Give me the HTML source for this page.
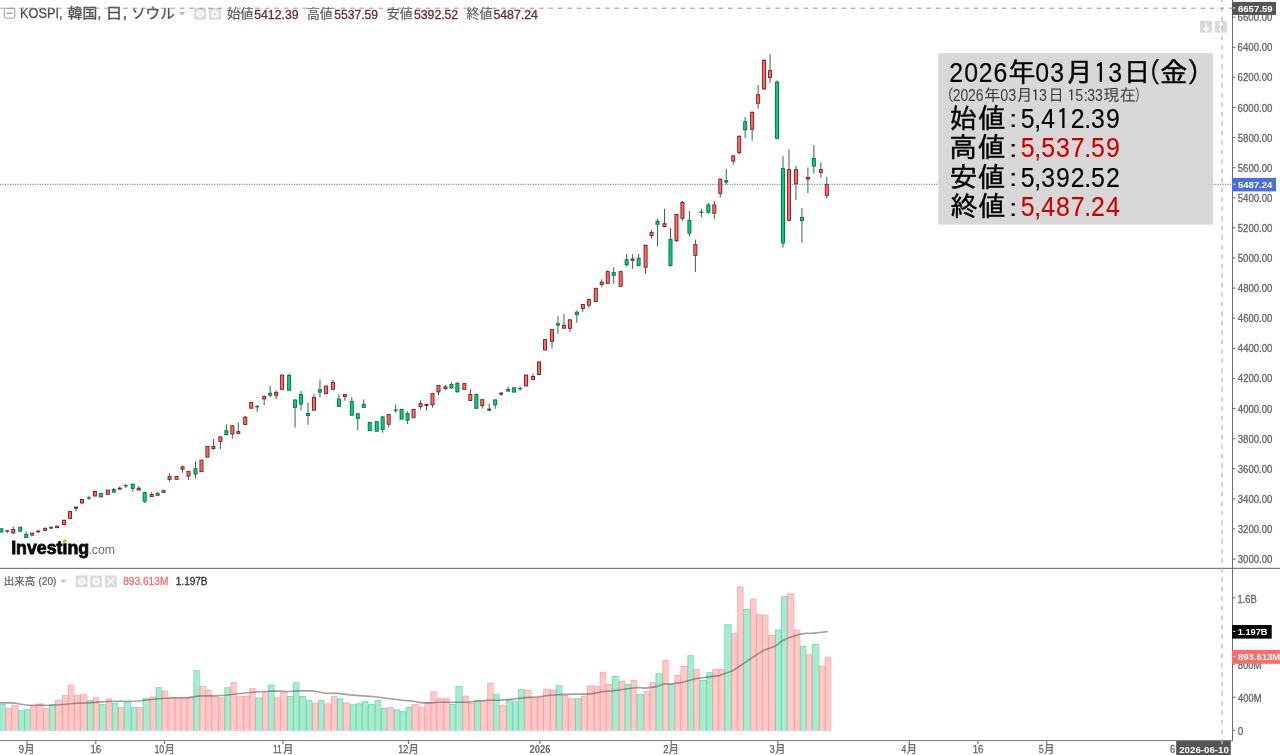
<!DOCTYPE html>
<html lang="ja">
<head>
<meta charset="utf-8">
<title>KOSPI 日足チャート</title>
<style>
html,body{margin:0;padding:0;background:#fff}
body{width:1280px;height:755px;overflow:hidden;font-family:"Liberation Sans","Noto Sans CJK JP",sans-serif}
svg{display:block}
text{white-space:pre}
</style>
</head>
<body>
<svg width="1280" height="755" viewBox="0 0 1280 755">
<rect width="1280" height="755" fill="#fff"/>
<g id="scalebtns">
<rect x="1200.1" y="20.9" width="11.75" height="11.75" fill="#d9d9d9"/><rect x="1215.05" y="20.9" width="11.75" height="11.75" fill="#d9d9d9"/>
<path d="M1206.05 23v6M1203.7 28.4h4.7l-2.35 2.6z" stroke="#fff" stroke-width="1.5" stroke-linejoin="round" fill="#fff"/>
<path d="M1220.85 24v5.6M1219.2 24.4l1.65-1.9l1.65 1.9zM1219.2 29.2l1.65 1.9l1.65-1.9z" stroke="#fff" stroke-width="1.2" stroke-linejoin="round" fill="#fff"/>
</g>
<g id="volume">
<rect x="-0.65" y="703.95" width="5.97" height="26.85" fill="#a7ecd1"/>
<rect x="5.33" y="708.15" width="5.97" height="22.65" fill="#ffc9c9"/>
<rect x="11.3" y="705.25" width="6.97" height="25.55" fill="#ffc9c9"/>
<rect x="18.27" y="710.25" width="5.97" height="20.55" fill="#a7ecd1"/>
<rect x="24.25" y="709.35" width="5.97" height="21.45" fill="#a7ecd1"/>
<rect x="30.22" y="705.65" width="5.97" height="25.15" fill="#ffc9c9"/>
<rect x="36.2" y="703.55" width="6.97" height="27.25" fill="#ffc9c9"/>
<rect x="43.17" y="708.15" width="5.97" height="22.65" fill="#ffc9c9"/>
<rect x="49.14" y="704.35" width="5.97" height="26.45" fill="#a7ecd1"/>
<rect x="55.12" y="700.15" width="6.97" height="30.65" fill="#ffc9c9"/>
<rect x="62.09" y="695.15" width="5.97" height="35.65" fill="#ffc9c9"/>
<rect x="68.06" y="684.75" width="5.97" height="46.05" fill="#ffc9c9"/>
<rect x="74.04" y="695.15" width="5.97" height="35.65" fill="#ffc9c9"/>
<rect x="80.01" y="694.25" width="6.97" height="36.55" fill="#ffc9c9"/>
<rect x="86.98" y="700.15" width="5.97" height="30.65" fill="#a7ecd1"/>
<rect x="92.96" y="697.35" width="5.97" height="33.45" fill="#ffc9c9"/>
<rect x="98.93" y="703.95" width="6.97" height="26.85" fill="#a7ecd1"/>
<rect x="105.9" y="698.35" width="5.97" height="32.45" fill="#ffc9c9"/>
<rect x="111.88" y="702.75" width="5.97" height="28.05" fill="#a7ecd1"/>
<rect x="117.85" y="707.15" width="5.97" height="23.65" fill="#ffc9c9"/>
<rect x="123.83" y="702.05" width="6.97" height="28.75" fill="#a7ecd1"/>
<rect x="130.8" y="707.15" width="5.97" height="23.65" fill="#a7ecd1"/>
<rect x="136.77" y="707.15" width="5.97" height="23.65" fill="#ffc9c9"/>
<rect x="142.75" y="698.35" width="6.97" height="32.45" fill="#a7ecd1"/>
<rect x="149.72" y="696.45" width="5.97" height="34.35" fill="#ffc9c9"/>
<rect x="155.69" y="687.25" width="5.97" height="43.55" fill="#a7ecd1"/>
<rect x="161.67" y="690.55" width="5.97" height="40.25" fill="#ffc9c9"/>
<rect x="167.64" y="697.65" width="6.97" height="33.15" fill="#ffc9c9"/>
<rect x="174.61" y="697.65" width="5.97" height="33.15" fill="#ffc9c9"/>
<rect x="180.59" y="697.65" width="5.97" height="33.15" fill="#ffc9c9"/>
<rect x="186.56" y="697.45" width="6.97" height="33.35" fill="#ffc9c9"/>
<rect x="193.53" y="670.25" width="5.97" height="60.55" fill="#a7ecd1"/>
<rect x="199.51" y="686.15" width="5.97" height="44.65" fill="#ffc9c9"/>
<rect x="205.48" y="689.85" width="5.97" height="40.95" fill="#ffc9c9"/>
<rect x="211.46" y="696.45" width="6.97" height="34.35" fill="#ffc9c9"/>
<rect x="218.43" y="697.45" width="5.97" height="33.35" fill="#ffc9c9"/>
<rect x="224.4" y="687.25" width="5.97" height="43.55" fill="#a7ecd1"/>
<rect x="230.38" y="682.25" width="5.97" height="48.55" fill="#ffc9c9"/>
<rect x="236.35" y="695.75" width="6.97" height="35.05" fill="#ffc9c9"/>
<rect x="243.32" y="695.75" width="5.97" height="35.05" fill="#ffc9c9"/>
<rect x="249.3" y="688.25" width="5.97" height="42.55" fill="#ffc9c9"/>
<rect x="255.27" y="697.45" width="6.97" height="33.35" fill="#a7ecd1"/>
<rect x="262.24" y="692.25" width="5.97" height="38.55" fill="#ffc9c9"/>
<rect x="268.22" y="684.75" width="5.97" height="46.05" fill="#a7ecd1"/>
<rect x="274.19" y="697.45" width="5.97" height="33.35" fill="#ffc9c9"/>
<rect x="280.17" y="692.05" width="6.97" height="38.75" fill="#ffc9c9"/>
<rect x="287.14" y="696.05" width="5.97" height="34.75" fill="#a7ecd1"/>
<rect x="293.11" y="682.25" width="5.97" height="48.55" fill="#a7ecd1"/>
<rect x="299.09" y="696.05" width="6.97" height="34.75" fill="#a7ecd1"/>
<rect x="306.06" y="700.15" width="5.97" height="30.65" fill="#a7ecd1"/>
<rect x="312.03" y="702.75" width="5.97" height="28.05" fill="#ffc9c9"/>
<rect x="318.01" y="700.15" width="5.97" height="30.65" fill="#a7ecd1"/>
<rect x="323.98" y="703.35" width="6.97" height="27.45" fill="#ffc9c9"/>
<rect x="330.95" y="696.05" width="5.97" height="34.75" fill="#ffc9c9"/>
<rect x="336.93" y="698.35" width="5.97" height="32.45" fill="#a7ecd1"/>
<rect x="342.9" y="702.75" width="6.97" height="28.05" fill="#ffc9c9"/>
<rect x="349.87" y="704.25" width="5.97" height="26.55" fill="#a7ecd1"/>
<rect x="355.85" y="703.35" width="5.97" height="27.45" fill="#a7ecd1"/>
<rect x="361.82" y="701.25" width="5.97" height="29.55" fill="#a7ecd1"/>
<rect x="367.8" y="704.25" width="6.97" height="26.55" fill="#a7ecd1"/>
<rect x="374.77" y="700.15" width="5.97" height="30.65" fill="#a7ecd1"/>
<rect x="380.74" y="708.15" width="5.97" height="22.65" fill="#a7ecd1"/>
<rect x="386.72" y="707.15" width="6.97" height="23.65" fill="#ffc9c9"/>
<rect x="393.69" y="709.35" width="5.97" height="21.45" fill="#a7ecd1"/>
<rect x="399.66" y="711.25" width="5.97" height="19.55" fill="#a7ecd1"/>
<rect x="405.64" y="707.15" width="5.97" height="23.65" fill="#a7ecd1"/>
<rect x="411.61" y="704.25" width="6.97" height="26.55" fill="#ffc9c9"/>
<rect x="418.58" y="707.15" width="5.97" height="23.65" fill="#ffc9c9"/>
<rect x="424.56" y="702.05" width="5.97" height="28.75" fill="#ffc9c9"/>
<rect x="430.53" y="691.35" width="5.97" height="39.45" fill="#ffc9c9"/>
<rect x="436.51" y="698.35" width="6.97" height="32.45" fill="#ffc9c9"/>
<rect x="443.48" y="698.35" width="5.97" height="32.45" fill="#ffc9c9"/>
<rect x="449.45" y="703.95" width="5.97" height="26.85" fill="#a7ecd1"/>
<rect x="455.43" y="686.15" width="6.97" height="44.65" fill="#a7ecd1"/>
<rect x="462.4" y="695.75" width="5.97" height="35.05" fill="#ffc9c9"/>
<rect x="468.37" y="702.75" width="5.97" height="28.05" fill="#ffc9c9"/>
<rect x="474.35" y="700.15" width="5.97" height="30.65" fill="#a7ecd1"/>
<rect x="480.32" y="700.85" width="6.97" height="29.95" fill="#ffc9c9"/>
<rect x="487.29" y="682.95" width="5.97" height="47.85" fill="#ffc9c9"/>
<rect x="493.27" y="694.15" width="5.97" height="36.65" fill="#a7ecd1"/>
<rect x="499.24" y="705.25" width="6.97" height="25.55" fill="#ffc9c9"/>
<rect x="506.21" y="699.35" width="5.97" height="31.45" fill="#a7ecd1"/>
<rect x="512.19" y="701.25" width="5.97" height="29.55" fill="#a7ecd1"/>
<rect x="518.16" y="689.15" width="5.97" height="41.65" fill="#a7ecd1"/>
<rect x="524.14" y="689.85" width="6.97" height="40.95" fill="#ffc9c9"/>
<rect x="531.11" y="697.65" width="5.97" height="33.15" fill="#ffc9c9"/>
<rect x="537.08" y="697.05" width="5.97" height="33.75" fill="#ffc9c9"/>
<rect x="543.06" y="689.15" width="6.97" height="41.65" fill="#ffc9c9"/>
<rect x="550.03" y="689.85" width="5.97" height="40.95" fill="#ffc9c9"/>
<rect x="556" y="685.35" width="5.97" height="45.45" fill="#a7ecd1"/>
<rect x="561.98" y="695.15" width="5.97" height="35.65" fill="#ffc9c9"/>
<rect x="567.95" y="698.35" width="6.97" height="32.45" fill="#ffc9c9"/>
<rect x="574.92" y="698.35" width="5.97" height="32.45" fill="#a7ecd1"/>
<rect x="580.9" y="695.75" width="5.97" height="35.05" fill="#ffc9c9"/>
<rect x="586.87" y="685.35" width="6.97" height="45.45" fill="#ffc9c9"/>
<rect x="593.84" y="686.15" width="5.97" height="44.65" fill="#ffc9c9"/>
<rect x="599.82" y="671.85" width="5.97" height="58.95" fill="#ffc9c9"/>
<rect x="605.79" y="684.05" width="5.97" height="46.75" fill="#ffc9c9"/>
<rect x="611.77" y="676.05" width="6.97" height="54.75" fill="#a7ecd1"/>
<rect x="618.74" y="681.05" width="5.97" height="49.75" fill="#ffc9c9"/>
<rect x="624.71" y="683.85" width="5.97" height="46.95" fill="#a7ecd1"/>
<rect x="630.69" y="680.05" width="5.97" height="50.75" fill="#ffc9c9"/>
<rect x="636.66" y="694.15" width="6.97" height="36.65" fill="#a7ecd1"/>
<rect x="643.63" y="691.15" width="5.97" height="39.65" fill="#ffc9c9"/>
<rect x="649.61" y="682.25" width="5.97" height="48.55" fill="#ffc9c9"/>
<rect x="655.58" y="673.45" width="6.97" height="57.35" fill="#a7ecd1"/>
<rect x="662.55" y="659.95" width="5.97" height="70.85" fill="#ffc9c9"/>
<rect x="668.53" y="683.85" width="5.97" height="46.95" fill="#a7ecd1"/>
<rect x="674.5" y="675.05" width="5.97" height="55.75" fill="#ffc9c9"/>
<rect x="680.48" y="665.85" width="6.97" height="64.95" fill="#ffc9c9"/>
<rect x="687.45" y="655.25" width="5.97" height="75.55" fill="#a7ecd1"/>
<rect x="693.42" y="669.15" width="5.97" height="61.65" fill="#ffc9c9"/>
<rect x="699.4" y="680.05" width="6.97" height="50.75" fill="#a7ecd1"/>
<rect x="706.37" y="672.25" width="5.97" height="58.55" fill="#a7ecd1"/>
<rect x="712.34" y="669.15" width="5.97" height="61.65" fill="#ffc9c9"/>
<rect x="718.32" y="669.15" width="5.97" height="61.65" fill="#ffc9c9"/>
<rect x="724.29" y="624.25" width="6.97" height="106.55" fill="#a7ecd1"/>
<rect x="731.26" y="633.05" width="5.97" height="97.75" fill="#ffc9c9"/>
<rect x="737.24" y="586.55" width="5.97" height="144.25" fill="#ffc9c9"/>
<rect x="743.21" y="609.05" width="6.97" height="121.75" fill="#a7ecd1"/>
<rect x="750.19" y="598.75" width="5.97" height="132.05" fill="#ffc9c9"/>
<rect x="756.16" y="614.25" width="5.97" height="116.55" fill="#ffc9c9"/>
<rect x="762.13" y="615.15" width="5.97" height="115.65" fill="#ffc9c9"/>
<rect x="768.11" y="634.85" width="6.97" height="95.95" fill="#ffc9c9"/>
<rect x="775.08" y="629.55" width="5.97" height="101.25" fill="#a7ecd1"/>
<rect x="781.05" y="596.25" width="5.97" height="134.55" fill="#a7ecd1"/>
<rect x="787.03" y="593.45" width="6.97" height="137.35" fill="#ffc9c9"/>
<rect x="794" y="629.55" width="5.97" height="101.25" fill="#ffc9c9"/>
<rect x="799.98" y="646.15" width="5.97" height="84.65" fill="#a7ecd1"/>
<rect x="805.95" y="654.35" width="5.97" height="76.45" fill="#ffc9c9"/>
<rect x="811.92" y="644.05" width="6.97" height="86.75" fill="#a7ecd1"/>
<rect x="818.9" y="665.65" width="5.97" height="65.15" fill="#ffc9c9"/>
<rect x="824.87" y="657.25" width="5.97" height="73.55" fill="#ffc9c9"/>
<g fill="none" stroke-width="0.85">
<path d="M-0.23 730.8V704.37H5.43V730.8" stroke="rgba(30,196,126,0.38)"/>
<path d="M5.75 730.8V708.57H11.4V730.8" stroke="rgba(255,112,108,0.38)"/>
<path d="M11.72 730.8V705.67H18.37V730.8" stroke="rgba(255,112,108,0.38)"/>
<path d="M18.69 730.8V710.67H24.35V730.8" stroke="rgba(30,196,126,0.38)"/>
<path d="M24.67 730.8V709.77H30.32V730.8" stroke="rgba(30,196,126,0.38)"/>
<path d="M30.64 730.8V706.07H36.3V730.8" stroke="rgba(255,112,108,0.38)"/>
<path d="M36.62 730.8V703.97H43.27V730.8" stroke="rgba(255,112,108,0.38)"/>
<path d="M43.59 730.8V708.57H49.24V730.8" stroke="rgba(255,112,108,0.38)"/>
<path d="M49.56 730.8V704.77H55.22V730.8" stroke="rgba(30,196,126,0.38)"/>
<path d="M55.54 730.8V700.57H62.19V730.8" stroke="rgba(255,112,108,0.38)"/>
<path d="M62.51 730.8V695.57H68.16V730.8" stroke="rgba(255,112,108,0.38)"/>
<path d="M68.48 730.8V685.17H74.14V730.8" stroke="rgba(255,112,108,0.38)"/>
<path d="M74.46 730.8V695.57H80.11V730.8" stroke="rgba(255,112,108,0.38)"/>
<path d="M80.43 730.8V694.67H87.08V730.8" stroke="rgba(255,112,108,0.38)"/>
<path d="M87.4 730.8V700.57H93.06V730.8" stroke="rgba(30,196,126,0.38)"/>
<path d="M93.38 730.8V697.77H99.03V730.8" stroke="rgba(255,112,108,0.38)"/>
<path d="M99.35 730.8V704.37H106V730.8" stroke="rgba(30,196,126,0.38)"/>
<path d="M106.32 730.8V698.77H111.98V730.8" stroke="rgba(255,112,108,0.38)"/>
<path d="M112.3 730.8V703.17H117.95V730.8" stroke="rgba(30,196,126,0.38)"/>
<path d="M118.27 730.8V707.57H123.93V730.8" stroke="rgba(255,112,108,0.38)"/>
<path d="M124.25 730.8V702.47H130.9V730.8" stroke="rgba(30,196,126,0.38)"/>
<path d="M131.22 730.8V707.57H136.87V730.8" stroke="rgba(30,196,126,0.38)"/>
<path d="M137.19 730.8V707.57H142.85V730.8" stroke="rgba(255,112,108,0.38)"/>
<path d="M143.17 730.8V698.77H149.82V730.8" stroke="rgba(30,196,126,0.38)"/>
<path d="M150.14 730.8V696.87H155.79V730.8" stroke="rgba(255,112,108,0.38)"/>
<path d="M156.11 730.8V687.67H161.77V730.8" stroke="rgba(30,196,126,0.38)"/>
<path d="M162.09 730.8V690.97H167.74V730.8" stroke="rgba(255,112,108,0.38)"/>
<path d="M168.06 730.8V698.07H174.71V730.8" stroke="rgba(255,112,108,0.38)"/>
<path d="M175.03 730.8V698.07H180.69V730.8" stroke="rgba(255,112,108,0.38)"/>
<path d="M181.01 730.8V698.07H186.66V730.8" stroke="rgba(255,112,108,0.38)"/>
<path d="M186.98 730.8V697.87H193.63V730.8" stroke="rgba(255,112,108,0.38)"/>
<path d="M193.95 730.8V670.67H199.61V730.8" stroke="rgba(30,196,126,0.38)"/>
<path d="M199.93 730.8V686.57H205.58V730.8" stroke="rgba(255,112,108,0.38)"/>
<path d="M205.9 730.8V690.27H211.56V730.8" stroke="rgba(255,112,108,0.38)"/>
<path d="M211.88 730.8V696.87H218.53V730.8" stroke="rgba(255,112,108,0.38)"/>
<path d="M218.85 730.8V697.87H224.5V730.8" stroke="rgba(255,112,108,0.38)"/>
<path d="M224.82 730.8V687.67H230.48V730.8" stroke="rgba(30,196,126,0.38)"/>
<path d="M230.8 730.8V682.67H236.45V730.8" stroke="rgba(255,112,108,0.38)"/>
<path d="M236.77 730.8V696.17H243.42V730.8" stroke="rgba(255,112,108,0.38)"/>
<path d="M243.74 730.8V696.17H249.4V730.8" stroke="rgba(255,112,108,0.38)"/>
<path d="M249.72 730.8V688.67H255.37V730.8" stroke="rgba(255,112,108,0.38)"/>
<path d="M255.69 730.8V697.87H262.34V730.8" stroke="rgba(30,196,126,0.38)"/>
<path d="M262.66 730.8V692.67H268.32V730.8" stroke="rgba(255,112,108,0.38)"/>
<path d="M268.64 730.8V685.17H274.29V730.8" stroke="rgba(30,196,126,0.38)"/>
<path d="M274.61 730.8V697.87H280.27V730.8" stroke="rgba(255,112,108,0.38)"/>
<path d="M280.59 730.8V692.47H287.24V730.8" stroke="rgba(255,112,108,0.38)"/>
<path d="M287.56 730.8V696.47H293.21V730.8" stroke="rgba(30,196,126,0.38)"/>
<path d="M293.53 730.8V682.67H299.19V730.8" stroke="rgba(30,196,126,0.38)"/>
<path d="M299.51 730.8V696.47H306.16V730.8" stroke="rgba(30,196,126,0.38)"/>
<path d="M306.48 730.8V700.57H312.13V730.8" stroke="rgba(30,196,126,0.38)"/>
<path d="M312.45 730.8V703.17H318.11V730.8" stroke="rgba(255,112,108,0.38)"/>
<path d="M318.43 730.8V700.57H324.08V730.8" stroke="rgba(30,196,126,0.38)"/>
<path d="M324.4 730.8V703.77H331.05V730.8" stroke="rgba(255,112,108,0.38)"/>
<path d="M331.37 730.8V696.47H337.03V730.8" stroke="rgba(255,112,108,0.38)"/>
<path d="M337.35 730.8V698.77H343V730.8" stroke="rgba(30,196,126,0.38)"/>
<path d="M343.32 730.8V703.17H349.97V730.8" stroke="rgba(255,112,108,0.38)"/>
<path d="M350.29 730.8V704.67H355.95V730.8" stroke="rgba(30,196,126,0.38)"/>
<path d="M356.27 730.8V703.77H361.92V730.8" stroke="rgba(30,196,126,0.38)"/>
<path d="M362.24 730.8V701.67H367.9V730.8" stroke="rgba(30,196,126,0.38)"/>
<path d="M368.22 730.8V704.67H374.87V730.8" stroke="rgba(30,196,126,0.38)"/>
<path d="M375.19 730.8V700.57H380.84V730.8" stroke="rgba(30,196,126,0.38)"/>
<path d="M381.16 730.8V708.57H386.82V730.8" stroke="rgba(30,196,126,0.38)"/>
<path d="M387.14 730.8V707.57H393.79V730.8" stroke="rgba(255,112,108,0.38)"/>
<path d="M394.11 730.8V709.77H399.76V730.8" stroke="rgba(30,196,126,0.38)"/>
<path d="M400.08 730.8V711.67H405.74V730.8" stroke="rgba(30,196,126,0.38)"/>
<path d="M406.06 730.8V707.57H411.71V730.8" stroke="rgba(30,196,126,0.38)"/>
<path d="M412.03 730.8V704.67H418.68V730.8" stroke="rgba(255,112,108,0.38)"/>
<path d="M419 730.8V707.57H424.66V730.8" stroke="rgba(255,112,108,0.38)"/>
<path d="M424.98 730.8V702.47H430.63V730.8" stroke="rgba(255,112,108,0.38)"/>
<path d="M430.95 730.8V691.77H436.61V730.8" stroke="rgba(255,112,108,0.38)"/>
<path d="M436.93 730.8V698.77H443.58V730.8" stroke="rgba(255,112,108,0.38)"/>
<path d="M443.9 730.8V698.77H449.55V730.8" stroke="rgba(255,112,108,0.38)"/>
<path d="M449.87 730.8V704.37H455.53V730.8" stroke="rgba(30,196,126,0.38)"/>
<path d="M455.85 730.8V686.57H462.5V730.8" stroke="rgba(30,196,126,0.38)"/>
<path d="M462.82 730.8V696.17H468.47V730.8" stroke="rgba(255,112,108,0.38)"/>
<path d="M468.79 730.8V703.17H474.45V730.8" stroke="rgba(255,112,108,0.38)"/>
<path d="M474.77 730.8V700.57H480.42V730.8" stroke="rgba(30,196,126,0.38)"/>
<path d="M480.74 730.8V701.27H487.39V730.8" stroke="rgba(255,112,108,0.38)"/>
<path d="M487.71 730.8V683.37H493.37V730.8" stroke="rgba(255,112,108,0.38)"/>
<path d="M493.69 730.8V694.57H499.34V730.8" stroke="rgba(30,196,126,0.38)"/>
<path d="M499.66 730.8V705.67H506.31V730.8" stroke="rgba(255,112,108,0.38)"/>
<path d="M506.63 730.8V699.77H512.29V730.8" stroke="rgba(30,196,126,0.38)"/>
<path d="M512.61 730.8V701.67H518.26V730.8" stroke="rgba(30,196,126,0.38)"/>
<path d="M518.58 730.8V689.57H524.24V730.8" stroke="rgba(30,196,126,0.38)"/>
<path d="M524.56 730.8V690.27H531.21V730.8" stroke="rgba(255,112,108,0.38)"/>
<path d="M531.53 730.8V698.07H537.18V730.8" stroke="rgba(255,112,108,0.38)"/>
<path d="M537.5 730.8V697.47H543.16V730.8" stroke="rgba(255,112,108,0.38)"/>
<path d="M543.48 730.8V689.57H550.13V730.8" stroke="rgba(255,112,108,0.38)"/>
<path d="M550.45 730.8V690.27H556.1V730.8" stroke="rgba(255,112,108,0.38)"/>
<path d="M556.42 730.8V685.77H562.08V730.8" stroke="rgba(30,196,126,0.38)"/>
<path d="M562.4 730.8V695.57H568.05V730.8" stroke="rgba(255,112,108,0.38)"/>
<path d="M568.37 730.8V698.77H575.02V730.8" stroke="rgba(255,112,108,0.38)"/>
<path d="M575.34 730.8V698.77H581V730.8" stroke="rgba(30,196,126,0.38)"/>
<path d="M581.32 730.8V696.17H586.97V730.8" stroke="rgba(255,112,108,0.38)"/>
<path d="M587.29 730.8V685.77H593.94V730.8" stroke="rgba(255,112,108,0.38)"/>
<path d="M594.26 730.8V686.57H599.92V730.8" stroke="rgba(255,112,108,0.38)"/>
<path d="M600.24 730.8V672.27H605.89V730.8" stroke="rgba(255,112,108,0.38)"/>
<path d="M606.21 730.8V684.47H611.87V730.8" stroke="rgba(255,112,108,0.38)"/>
<path d="M612.19 730.8V676.47H618.84V730.8" stroke="rgba(30,196,126,0.38)"/>
<path d="M619.16 730.8V681.47H624.81V730.8" stroke="rgba(255,112,108,0.38)"/>
<path d="M625.13 730.8V684.27H630.79V730.8" stroke="rgba(30,196,126,0.38)"/>
<path d="M631.11 730.8V680.47H636.76V730.8" stroke="rgba(255,112,108,0.38)"/>
<path d="M637.08 730.8V694.57H643.73V730.8" stroke="rgba(30,196,126,0.38)"/>
<path d="M644.05 730.8V691.57H649.71V730.8" stroke="rgba(255,112,108,0.38)"/>
<path d="M650.03 730.8V682.67H655.68V730.8" stroke="rgba(255,112,108,0.38)"/>
<path d="M656 730.8V673.87H662.65V730.8" stroke="rgba(30,196,126,0.38)"/>
<path d="M662.97 730.8V660.37H668.63V730.8" stroke="rgba(255,112,108,0.38)"/>
<path d="M668.95 730.8V684.27H674.6V730.8" stroke="rgba(30,196,126,0.38)"/>
<path d="M674.92 730.8V675.47H680.58V730.8" stroke="rgba(255,112,108,0.38)"/>
<path d="M680.9 730.8V666.27H687.55V730.8" stroke="rgba(255,112,108,0.38)"/>
<path d="M687.87 730.8V655.67H693.52V730.8" stroke="rgba(30,196,126,0.38)"/>
<path d="M693.84 730.8V669.57H699.5V730.8" stroke="rgba(255,112,108,0.38)"/>
<path d="M699.82 730.8V680.47H706.47V730.8" stroke="rgba(30,196,126,0.38)"/>
<path d="M706.79 730.8V672.67H712.44V730.8" stroke="rgba(30,196,126,0.38)"/>
<path d="M712.76 730.8V669.57H718.42V730.8" stroke="rgba(255,112,108,0.38)"/>
<path d="M718.74 730.8V669.57H724.39V730.8" stroke="rgba(255,112,108,0.38)"/>
<path d="M724.71 730.8V624.67H731.36V730.8" stroke="rgba(30,196,126,0.38)"/>
<path d="M731.68 730.8V633.47H737.34V730.8" stroke="rgba(255,112,108,0.38)"/>
<path d="M737.66 730.8V586.97H743.31V730.8" stroke="rgba(255,112,108,0.38)"/>
<path d="M743.63 730.8V609.47H750.29V730.8" stroke="rgba(30,196,126,0.38)"/>
<path d="M750.61 730.8V599.17H756.26V730.8" stroke="rgba(255,112,108,0.38)"/>
<path d="M756.58 730.8V614.67H762.23V730.8" stroke="rgba(255,112,108,0.38)"/>
<path d="M762.55 730.8V615.57H768.21V730.8" stroke="rgba(255,112,108,0.38)"/>
<path d="M768.53 730.8V635.27H775.18V730.8" stroke="rgba(255,112,108,0.38)"/>
<path d="M775.5 730.8V629.97H781.15V730.8" stroke="rgba(30,196,126,0.38)"/>
<path d="M781.47 730.8V596.67H787.13V730.8" stroke="rgba(30,196,126,0.38)"/>
<path d="M787.45 730.8V593.87H794.1V730.8" stroke="rgba(255,112,108,0.38)"/>
<path d="M794.42 730.8V629.97H800.08V730.8" stroke="rgba(255,112,108,0.38)"/>
<path d="M800.39 730.8V646.57H806.05V730.8" stroke="rgba(30,196,126,0.38)"/>
<path d="M806.37 730.8V654.77H812.02V730.8" stroke="rgba(255,112,108,0.38)"/>
<path d="M812.34 730.8V644.47H819V730.8" stroke="rgba(30,196,126,0.38)"/>
<path d="M819.32 730.8V666.07H824.97V730.8" stroke="rgba(255,112,108,0.38)"/>
<path d="M825.29 730.8V657.67H830.94V730.8" stroke="rgba(255,112,108,0.38)"/>
</g>
</g>
<polyline points="0,702.9 8.6,702.9 14.9,703.1 21.1,704.2 27.4,705.2 33.6,705.3 46.1,705.3 52.4,705.2 58.6,704.8 65,704.4 71.2,703.8 77.4,703.2 88,702.9 100.6,701.9 113.2,701.2 125.8,701.2 138.4,701 150.9,699.5 162.6,698.5 175.2,697.8 187.7,697.6 200.3,695.9 212.9,695.9 225.5,695.3 238,693.8 250.6,692.5 263.2,691.5 275.8,690.9 288.4,691.5 300.9,690.9 312.6,690.9 325.2,693.2 337.7,693.4 350.3,694.9 362.9,695.9 375.5,696.8 388,698.5 400.6,700 413.2,701.2 422,702.9 432,702.9 438.4,702.2 451,702.2 462.6,702.2 468.9,702.2 475.2,701.2 487.7,700.3 500.3,700.1 512.9,699.1 525.5,697.6 538,696.8 550.6,695.3 563.2,694.4 575.8,694.1 588.4,694.1 594.7,693.4 600.9,691.9 606.3,691.2 612.6,690.9 625.2,689 637.7,687.5 645.3,688.1 655.3,686.9 664.2,683.7 670.4,684 681.8,682.4 694.3,679 706.9,677.1 719.5,675.6 732.1,671 738.4,667 750.3,658.9 762.9,650.8 775.5,646.1 781.8,641 788,638.1 794.3,636 800.6,634.1 806.9,633.2 813.2,633.1 819.5,632.5 827.7,631.6" fill="none" stroke="rgba(88,88,88,0.56)" stroke-width="1.6" stroke-linejoin="round"/>
<g id="candles">
<rect x="-0.7" y="528.28" width="4" height="4.24" fill="#0d7043"/>
<rect x="0.2" y="529.18" width="2.2" height="2.44" fill="#00d07a"/>
<rect x="6.78" y="529.8" width="1" height="3.1" fill="#34694c"/>
<rect x="5.28" y="530.35" width="4" height="1.3" fill="#7d1f1f"/>
<rect x="12.75" y="526.4" width="1" height="7.5" fill="#34694c"/>
<rect x="11.25" y="528.98" width="4" height="4.44" fill="#7d1f1f"/>
<rect x="12.15" y="529.88" width="2.2" height="2.64" fill="#ff6666"/>
<rect x="19.72" y="526.4" width="1" height="5.22" fill="#34694c"/>
<rect x="18.22" y="527.08" width="4" height="4.54" fill="#0d7043"/>
<rect x="19.12" y="527.98" width="2.2" height="2.74" fill="#00d07a"/>
<rect x="25.7" y="531.7" width="1" height="6.5" fill="#34694c"/>
<rect x="24.2" y="533.98" width="4" height="3.94" fill="#0d7043"/>
<rect x="25.1" y="534.88" width="2.2" height="2.14" fill="#00d07a"/>
<rect x="30.17" y="532.68" width="4" height="2.94" fill="#7d1f1f"/>
<rect x="31.07" y="533.58" width="2.2" height="1.14" fill="#ff6666"/>
<rect x="37.65" y="530.58" width="1" height="2.32" fill="#34694c"/>
<rect x="36.15" y="530.58" width="4" height="1.64" fill="#7d1f1f"/>
<rect x="44.62" y="527.5" width="1" height="3.42" fill="#34694c"/>
<rect x="43.12" y="527.88" width="4" height="3.04" fill="#7d1f1f"/>
<rect x="44.02" y="528.78" width="2.2" height="1.24" fill="#ff6666"/>
<rect x="50.59" y="526.4" width="1" height="2.32" fill="#34694c"/>
<rect x="49.09" y="526.78" width="4" height="1.94" fill="#0d7043"/>
<rect x="55.07" y="525.68" width="4" height="2.44" fill="#7d1f1f"/>
<rect x="55.97" y="526.58" width="2.2" height="0.64" fill="#ff6666"/>
<rect x="63.54" y="519.78" width="1" height="5.62" fill="#34694c"/>
<rect x="62.04" y="519.78" width="4" height="5.14" fill="#7d1f1f"/>
<rect x="62.94" y="520.68" width="2.2" height="3.34" fill="#ff6666"/>
<rect x="68.01" y="511.08" width="4" height="7.84" fill="#7d1f1f"/>
<rect x="68.91" y="511.98" width="2.2" height="6.04" fill="#ff6666"/>
<rect x="75.49" y="506.68" width="1" height="4.82" fill="#34694c"/>
<rect x="73.99" y="506.68" width="4" height="1.94" fill="#7d1f1f"/>
<rect x="81.46" y="498.98" width="1" height="5.02" fill="#34694c"/>
<rect x="79.96" y="498.98" width="4" height="4.34" fill="#7d1f1f"/>
<rect x="80.86" y="499.88" width="2.2" height="2.54" fill="#ff6666"/>
<rect x="88.43" y="495.8" width="1" height="4" fill="#34694c"/>
<rect x="86.93" y="497.35" width="4" height="1.3" fill="#0d7043"/>
<rect x="94.41" y="490.5" width="1" height="5.92" fill="#34694c"/>
<rect x="92.91" y="490.98" width="4" height="5.44" fill="#7d1f1f"/>
<rect x="93.81" y="491.88" width="2.2" height="3.64" fill="#ff6666"/>
<rect x="98.88" y="493.08" width="4" height="4.24" fill="#0d7043"/>
<rect x="99.78" y="493.98" width="2.2" height="2.44" fill="#00d07a"/>
<rect x="105.85" y="489.58" width="4" height="5.24" fill="#7d1f1f"/>
<rect x="106.75" y="490.48" width="2.2" height="3.44" fill="#ff6666"/>
<rect x="113.33" y="488" width="1" height="4.9" fill="#34694c"/>
<rect x="111.83" y="489.08" width="4" height="3.44" fill="#0d7043"/>
<rect x="112.73" y="489.98" width="2.2" height="1.64" fill="#00d07a"/>
<rect x="119.3" y="486.4" width="1" height="3.12" fill="#34694c"/>
<rect x="117.8" y="487.68" width="4" height="1.84" fill="#7d1f1f"/>
<rect x="125.28" y="484.2" width="1" height="3.7" fill="#34694c"/>
<rect x="123.78" y="485.15" width="4" height="1.3" fill="#0d7043"/>
<rect x="132.25" y="483.2" width="1" height="8.6" fill="#34694c"/>
<rect x="130.75" y="483.98" width="4" height="4.84" fill="#0d7043"/>
<rect x="131.65" y="484.88" width="2.2" height="3.04" fill="#00d07a"/>
<rect x="138.22" y="486.4" width="1" height="4.02" fill="#34694c"/>
<rect x="136.72" y="487.78" width="4" height="2.64" fill="#7d1f1f"/>
<rect x="137.62" y="488.68" width="2.2" height="0.84" fill="#ff6666"/>
<rect x="144.2" y="492.08" width="1" height="11.02" fill="#34694c"/>
<rect x="142.7" y="492.08" width="4" height="9.64" fill="#0d7043"/>
<rect x="143.6" y="492.98" width="2.2" height="7.84" fill="#00d07a"/>
<rect x="151.17" y="492" width="1" height="5.02" fill="#34694c"/>
<rect x="149.67" y="493.98" width="4" height="3.04" fill="#7d1f1f"/>
<rect x="150.57" y="494.88" width="2.2" height="1.24" fill="#ff6666"/>
<rect x="157.14" y="491.8" width="1" height="4.02" fill="#34694c"/>
<rect x="155.64" y="492.88" width="4" height="2.94" fill="#0d7043"/>
<rect x="156.54" y="493.78" width="2.2" height="1.14" fill="#00d07a"/>
<rect x="163.12" y="489.6" width="1" height="3.22" fill="#34694c"/>
<rect x="161.62" y="490.28" width="4" height="2.54" fill="#7d1f1f"/>
<rect x="162.52" y="491.18" width="2.2" height="0.74" fill="#ff6666"/>
<rect x="169.09" y="473.3" width="1" height="8.4" fill="#34694c"/>
<rect x="167.59" y="476.08" width="4" height="3.74" fill="#7d1f1f"/>
<rect x="168.49" y="476.98" width="2.2" height="1.94" fill="#ff6666"/>
<rect x="174.56" y="476.08" width="4" height="3.74" fill="#7d1f1f"/>
<rect x="175.46" y="476.98" width="2.2" height="1.94" fill="#ff6666"/>
<rect x="182.04" y="465.3" width="1" height="7.6" fill="#34694c"/>
<rect x="180.54" y="466.38" width="4" height="3.24" fill="#7d1f1f"/>
<rect x="181.44" y="467.28" width="2.2" height="1.44" fill="#ff6666"/>
<rect x="188.01" y="471.08" width="1" height="8.72" fill="#34694c"/>
<rect x="186.51" y="471.08" width="4" height="5.44" fill="#7d1f1f"/>
<rect x="187.41" y="471.98" width="2.2" height="3.64" fill="#ff6666"/>
<rect x="194.98" y="461.2" width="1" height="17.4" fill="#34694c"/>
<rect x="193.48" y="468.28" width="4" height="6.34" fill="#0d7043"/>
<rect x="194.38" y="469.18" width="2.2" height="4.54" fill="#00d07a"/>
<rect x="199.46" y="459.68" width="4" height="12.44" fill="#7d1f1f"/>
<rect x="200.36" y="460.58" width="2.2" height="10.64" fill="#ff6666"/>
<rect x="205.43" y="445.98" width="4" height="11.64" fill="#7d1f1f"/>
<rect x="206.33" y="446.88" width="2.2" height="9.84" fill="#ff6666"/>
<rect x="212.91" y="438.9" width="1" height="11.1" fill="#34694c"/>
<rect x="211.41" y="445.98" width="4" height="2.94" fill="#7d1f1f"/>
<rect x="212.31" y="446.88" width="2.2" height="1.14" fill="#ff6666"/>
<rect x="219.88" y="436.48" width="1" height="12.52" fill="#34694c"/>
<rect x="218.38" y="436.48" width="4" height="5.44" fill="#7d1f1f"/>
<rect x="219.28" y="437.38" width="2.2" height="3.64" fill="#ff6666"/>
<rect x="225.85" y="424.2" width="1" height="10.92" fill="#34694c"/>
<rect x="224.35" y="430.28" width="4" height="4.84" fill="#0d7043"/>
<rect x="225.25" y="431.18" width="2.2" height="3.04" fill="#00d07a"/>
<rect x="231.83" y="425.28" width="1" height="13.62" fill="#34694c"/>
<rect x="230.33" y="425.28" width="4" height="9.14" fill="#7d1f1f"/>
<rect x="231.23" y="426.18" width="2.2" height="7.34" fill="#ff6666"/>
<rect x="237.8" y="422.6" width="1" height="11.9" fill="#34694c"/>
<rect x="236.3" y="431.18" width="4" height="2.54" fill="#7d1f1f"/>
<rect x="237.2" y="432.08" width="2.2" height="0.74" fill="#ff6666"/>
<rect x="244.77" y="415.7" width="1" height="9.22" fill="#34694c"/>
<rect x="243.27" y="416.68" width="4" height="8.24" fill="#7d1f1f"/>
<rect x="244.17" y="417.58" width="2.2" height="6.44" fill="#ff6666"/>
<rect x="249.25" y="401.98" width="4" height="6.74" fill="#7d1f1f"/>
<rect x="250.15" y="402.88" width="2.2" height="4.94" fill="#ff6666"/>
<rect x="256.72" y="405.1" width="1" height="6.8" fill="#34694c"/>
<rect x="255.22" y="405.95" width="4" height="1.3" fill="#0d7043"/>
<rect x="263.69" y="395.3" width="1" height="9.8" fill="#34694c"/>
<rect x="262.19" y="396.08" width="4" height="3.24" fill="#7d1f1f"/>
<rect x="263.09" y="396.98" width="2.2" height="1.44" fill="#ff6666"/>
<rect x="269.67" y="385.8" width="1" height="11.7" fill="#34694c"/>
<rect x="268.17" y="392.78" width="4" height="2.94" fill="#0d7043"/>
<rect x="269.07" y="393.68" width="2.2" height="1.14" fill="#00d07a"/>
<rect x="275.64" y="390.3" width="1" height="8.8" fill="#34694c"/>
<rect x="274.14" y="391.88" width="4" height="3.84" fill="#7d1f1f"/>
<rect x="275.04" y="392.78" width="2.2" height="2.04" fill="#ff6666"/>
<rect x="280.12" y="374.58" width="4" height="15.24" fill="#7d1f1f"/>
<rect x="281.02" y="375.48" width="2.2" height="13.44" fill="#ff6666"/>
<rect x="288.59" y="373.6" width="1" height="17.12" fill="#34694c"/>
<rect x="287.09" y="374.98" width="4" height="15.74" fill="#0d7043"/>
<rect x="287.99" y="375.88" width="2.2" height="13.94" fill="#00d07a"/>
<rect x="294.56" y="399.48" width="1" height="28.12" fill="#34694c"/>
<rect x="293.06" y="399.48" width="4" height="8.34" fill="#0d7043"/>
<rect x="293.96" y="400.38" width="2.2" height="6.54" fill="#00d07a"/>
<rect x="300.54" y="390.9" width="1" height="19.5" fill="#34694c"/>
<rect x="299.04" y="394.08" width="4" height="10.44" fill="#0d7043"/>
<rect x="299.94" y="394.98" width="2.2" height="8.64" fill="#00d07a"/>
<rect x="307.51" y="402.8" width="1" height="22" fill="#34694c"/>
<rect x="306.01" y="413.08" width="4" height="2.84" fill="#0d7043"/>
<rect x="306.91" y="413.98" width="2.2" height="1.04" fill="#00d07a"/>
<rect x="313.48" y="394.3" width="1" height="16.32" fill="#34694c"/>
<rect x="311.98" y="396.98" width="4" height="13.64" fill="#7d1f1f"/>
<rect x="312.88" y="397.88" width="2.2" height="11.84" fill="#ff6666"/>
<rect x="319.46" y="379.6" width="1" height="17.9" fill="#34694c"/>
<rect x="317.96" y="389.18" width="4" height="3.44" fill="#0d7043"/>
<rect x="318.86" y="390.08" width="2.2" height="1.64" fill="#00d07a"/>
<rect x="323.93" y="385.58" width="4" height="8.64" fill="#7d1f1f"/>
<rect x="324.83" y="386.48" width="2.2" height="6.84" fill="#ff6666"/>
<rect x="332.4" y="379.8" width="1" height="10.02" fill="#34694c"/>
<rect x="330.9" y="382.08" width="4" height="7.74" fill="#7d1f1f"/>
<rect x="331.8" y="382.98" width="2.2" height="5.94" fill="#ff6666"/>
<rect x="338.38" y="394.3" width="1" height="12.52" fill="#34694c"/>
<rect x="336.88" y="398.58" width="4" height="8.24" fill="#0d7043"/>
<rect x="337.78" y="399.48" width="2.2" height="6.44" fill="#00d07a"/>
<rect x="344.35" y="394.08" width="1" height="6.62" fill="#34694c"/>
<rect x="342.85" y="394.08" width="4" height="2.94" fill="#7d1f1f"/>
<rect x="343.75" y="394.98" width="2.2" height="1.14" fill="#ff6666"/>
<rect x="351.32" y="397.2" width="1" height="18.42" fill="#34694c"/>
<rect x="349.82" y="401.08" width="4" height="14.54" fill="#0d7043"/>
<rect x="350.72" y="401.98" width="2.2" height="12.74" fill="#00d07a"/>
<rect x="357.3" y="413.28" width="1" height="16.82" fill="#34694c"/>
<rect x="355.8" y="413.28" width="4" height="5.54" fill="#0d7043"/>
<rect x="356.7" y="414.18" width="2.2" height="3.74" fill="#00d07a"/>
<rect x="363.27" y="399.4" width="1" height="8.42" fill="#34694c"/>
<rect x="361.77" y="403.88" width="4" height="3.94" fill="#0d7043"/>
<rect x="362.67" y="404.78" width="2.2" height="2.14" fill="#00d07a"/>
<rect x="367.75" y="421.88" width="4" height="9.14" fill="#0d7043"/>
<rect x="368.65" y="422.78" width="2.2" height="7.34" fill="#00d07a"/>
<rect x="374.72" y="421.08" width="4" height="10.64" fill="#0d7043"/>
<rect x="375.62" y="421.98" width="2.2" height="8.84" fill="#00d07a"/>
<rect x="382.19" y="415.8" width="1" height="16.8" fill="#34694c"/>
<rect x="380.69" y="416.48" width="4" height="13.34" fill="#0d7043"/>
<rect x="381.59" y="417.38" width="2.2" height="11.54" fill="#00d07a"/>
<rect x="388.17" y="414.18" width="1" height="13.22" fill="#34694c"/>
<rect x="386.67" y="414.18" width="4" height="10.54" fill="#7d1f1f"/>
<rect x="387.57" y="415.08" width="2.2" height="8.74" fill="#ff6666"/>
<rect x="395.14" y="404.5" width="1" height="8.4" fill="#34694c"/>
<rect x="393.64" y="409.45" width="4" height="1.3" fill="#0d7043"/>
<rect x="399.61" y="408.88" width="4" height="10.74" fill="#0d7043"/>
<rect x="400.51" y="409.78" width="2.2" height="8.94" fill="#00d07a"/>
<rect x="407.09" y="411.4" width="1" height="12.8" fill="#34694c"/>
<rect x="405.59" y="413.08" width="4" height="7.54" fill="#0d7043"/>
<rect x="406.49" y="413.98" width="2.2" height="5.74" fill="#00d07a"/>
<rect x="411.56" y="408.88" width="4" height="9.24" fill="#7d1f1f"/>
<rect x="412.46" y="409.78" width="2.2" height="7.44" fill="#ff6666"/>
<rect x="420.03" y="400.3" width="1" height="9.1" fill="#34694c"/>
<rect x="418.53" y="402.98" width="4" height="3.84" fill="#7d1f1f"/>
<rect x="419.43" y="403.88" width="2.2" height="2.04" fill="#ff6666"/>
<rect x="426.01" y="403.88" width="1" height="6.52" fill="#34694c"/>
<rect x="424.51" y="403.88" width="4" height="2.04" fill="#7d1f1f"/>
<rect x="431.98" y="393.18" width="1" height="14.42" fill="#34694c"/>
<rect x="430.48" y="393.18" width="4" height="12.04" fill="#7d1f1f"/>
<rect x="431.38" y="394.08" width="2.2" height="10.24" fill="#ff6666"/>
<rect x="437.96" y="384.98" width="1" height="10.52" fill="#34694c"/>
<rect x="436.46" y="384.98" width="4" height="7.34" fill="#7d1f1f"/>
<rect x="437.36" y="385.88" width="2.2" height="5.54" fill="#ff6666"/>
<rect x="444.93" y="385" width="1" height="4.9" fill="#34694c"/>
<rect x="443.43" y="386.48" width="4" height="2.44" fill="#7d1f1f"/>
<rect x="444.33" y="387.38" width="2.2" height="0.64" fill="#ff6666"/>
<rect x="450.9" y="382.3" width="1" height="6.7" fill="#34694c"/>
<rect x="449.4" y="383.98" width="4" height="4.24" fill="#0d7043"/>
<rect x="450.3" y="384.88" width="2.2" height="2.44" fill="#00d07a"/>
<rect x="456.88" y="382.1" width="1" height="10.22" fill="#34694c"/>
<rect x="455.38" y="382.88" width="4" height="9.44" fill="#0d7043"/>
<rect x="456.28" y="383.78" width="2.2" height="7.64" fill="#00d07a"/>
<rect x="462.35" y="383.08" width="4" height="6.74" fill="#7d1f1f"/>
<rect x="463.25" y="383.98" width="2.2" height="4.94" fill="#ff6666"/>
<rect x="469.82" y="389.2" width="1" height="11.72" fill="#34694c"/>
<rect x="468.32" y="394.08" width="4" height="6.84" fill="#7d1f1f"/>
<rect x="469.22" y="394.98" width="2.2" height="5.04" fill="#ff6666"/>
<rect x="475.8" y="393.4" width="1" height="15.32" fill="#34694c"/>
<rect x="474.3" y="394.08" width="4" height="14.64" fill="#0d7043"/>
<rect x="475.2" y="394.98" width="2.2" height="12.84" fill="#00d07a"/>
<rect x="481.77" y="399.18" width="1" height="9.52" fill="#34694c"/>
<rect x="480.27" y="399.18" width="4" height="6.74" fill="#7d1f1f"/>
<rect x="481.17" y="400.08" width="2.2" height="4.94" fill="#ff6666"/>
<rect x="488.74" y="403.8" width="1" height="7.6" fill="#34694c"/>
<rect x="487.24" y="408.68" width="4" height="1.94" fill="#7d1f1f"/>
<rect x="494.72" y="399.48" width="1" height="9.22" fill="#34694c"/>
<rect x="493.22" y="399.48" width="4" height="5.74" fill="#0d7043"/>
<rect x="494.12" y="400.38" width="2.2" height="3.94" fill="#00d07a"/>
<rect x="500.69" y="392.58" width="1" height="3.32" fill="#34694c"/>
<rect x="499.19" y="392.58" width="4" height="1.94" fill="#7d1f1f"/>
<rect x="507.66" y="386.5" width="1" height="5.02" fill="#34694c"/>
<rect x="506.16" y="388.98" width="4" height="2.54" fill="#0d7043"/>
<rect x="507.06" y="389.88" width="2.2" height="0.74" fill="#00d07a"/>
<rect x="512.14" y="387.28" width="4" height="5.34" fill="#0d7043"/>
<rect x="513.04" y="388.18" width="2.2" height="3.54" fill="#00d07a"/>
<rect x="519.61" y="386.5" width="1" height="4.1" fill="#34694c"/>
<rect x="518.11" y="387.95" width="4" height="1.3" fill="#0d7043"/>
<rect x="524.09" y="374.58" width="4" height="11.84" fill="#7d1f1f"/>
<rect x="524.99" y="375.48" width="2.2" height="10.04" fill="#ff6666"/>
<rect x="532.56" y="373.6" width="1" height="6.22" fill="#34694c"/>
<rect x="531.06" y="375.98" width="4" height="3.84" fill="#7d1f1f"/>
<rect x="531.96" y="376.88" width="2.2" height="2.04" fill="#ff6666"/>
<rect x="537.03" y="361.38" width="4" height="13.64" fill="#7d1f1f"/>
<rect x="537.93" y="362.28" width="2.2" height="11.84" fill="#ff6666"/>
<rect x="543.01" y="339.08" width="4" height="11.34" fill="#7d1f1f"/>
<rect x="543.91" y="339.98" width="2.2" height="9.54" fill="#ff6666"/>
<rect x="551.48" y="329.08" width="1" height="19.42" fill="#34694c"/>
<rect x="549.98" y="329.08" width="4" height="12.74" fill="#7d1f1f"/>
<rect x="550.88" y="329.98" width="2.2" height="10.94" fill="#ff6666"/>
<rect x="557.45" y="316.1" width="1" height="17.7" fill="#34694c"/>
<rect x="555.95" y="323.18" width="4" height="2.34" fill="#0d7043"/>
<rect x="556.85" y="324.08" width="2.2" height="0.54" fill="#00d07a"/>
<rect x="563.43" y="314.2" width="1" height="14.42" fill="#34694c"/>
<rect x="561.93" y="324.78" width="4" height="3.84" fill="#7d1f1f"/>
<rect x="562.83" y="325.68" width="2.2" height="2.04" fill="#ff6666"/>
<rect x="569.4" y="319.38" width="1" height="12.82" fill="#34694c"/>
<rect x="567.9" y="319.38" width="4" height="9.44" fill="#7d1f1f"/>
<rect x="568.8" y="320.28" width="2.2" height="7.64" fill="#ff6666"/>
<rect x="576.37" y="310.2" width="1" height="12.5" fill="#34694c"/>
<rect x="574.87" y="311.78" width="4" height="3.24" fill="#0d7043"/>
<rect x="575.77" y="312.68" width="2.2" height="1.44" fill="#00d07a"/>
<rect x="582.35" y="303.98" width="1" height="7.82" fill="#34694c"/>
<rect x="580.85" y="303.98" width="4" height="4.84" fill="#7d1f1f"/>
<rect x="581.75" y="304.88" width="2.2" height="3.04" fill="#ff6666"/>
<rect x="588.32" y="298.98" width="1" height="8.62" fill="#34694c"/>
<rect x="586.82" y="298.98" width="4" height="6.74" fill="#7d1f1f"/>
<rect x="587.72" y="299.88" width="2.2" height="4.94" fill="#ff6666"/>
<rect x="593.79" y="287.88" width="4" height="14.04" fill="#7d1f1f"/>
<rect x="594.69" y="288.78" width="2.2" height="12.24" fill="#ff6666"/>
<rect x="601.27" y="279.2" width="1" height="8.2" fill="#34694c"/>
<rect x="599.77" y="281.78" width="4" height="3.14" fill="#7d1f1f"/>
<rect x="600.67" y="282.68" width="2.2" height="1.34" fill="#ff6666"/>
<rect x="607.24" y="270.1" width="1" height="13.72" fill="#34694c"/>
<rect x="605.74" y="271.18" width="4" height="12.64" fill="#7d1f1f"/>
<rect x="606.64" y="272.08" width="2.2" height="10.84" fill="#ff6666"/>
<rect x="613.22" y="267.3" width="1" height="16.6" fill="#34694c"/>
<rect x="611.72" y="272.08" width="4" height="3.64" fill="#0d7043"/>
<rect x="612.62" y="272.98" width="2.2" height="1.84" fill="#00d07a"/>
<rect x="620.19" y="270.7" width="1" height="16.02" fill="#34694c"/>
<rect x="618.69" y="271.18" width="4" height="15.54" fill="#7d1f1f"/>
<rect x="619.59" y="272.08" width="2.2" height="13.74" fill="#ff6666"/>
<rect x="626.16" y="254.1" width="1" height="12.6" fill="#34694c"/>
<rect x="624.66" y="259.28" width="4" height="5.94" fill="#0d7043"/>
<rect x="625.56" y="260.18" width="2.2" height="4.14" fill="#00d07a"/>
<rect x="632.14" y="254.1" width="1" height="14.7" fill="#34694c"/>
<rect x="630.64" y="258.48" width="4" height="2.34" fill="#7d1f1f"/>
<rect x="631.54" y="259.38" width="2.2" height="0.54" fill="#ff6666"/>
<rect x="638.11" y="254.1" width="1" height="11.82" fill="#34694c"/>
<rect x="636.61" y="257.68" width="4" height="8.24" fill="#0d7043"/>
<rect x="637.51" y="258.58" width="2.2" height="6.44" fill="#00d07a"/>
<rect x="645.08" y="244.78" width="1" height="29.02" fill="#34694c"/>
<rect x="643.58" y="244.78" width="4" height="22.94" fill="#7d1f1f"/>
<rect x="644.48" y="245.68" width="2.2" height="21.14" fill="#ff6666"/>
<rect x="651.06" y="229.9" width="1" height="8.8" fill="#34694c"/>
<rect x="649.56" y="232.08" width="4" height="3.94" fill="#7d1f1f"/>
<rect x="650.46" y="232.98" width="2.2" height="2.14" fill="#ff6666"/>
<rect x="657.03" y="218.9" width="1" height="27.6" fill="#34694c"/>
<rect x="655.53" y="220.78" width="4" height="3.94" fill="#0d7043"/>
<rect x="656.43" y="221.68" width="2.2" height="2.14" fill="#00d07a"/>
<rect x="664" y="208.8" width="1" height="18.6" fill="#34694c"/>
<rect x="662.5" y="223.28" width="4" height="3.64" fill="#7d1f1f"/>
<rect x="663.4" y="224.18" width="2.2" height="1.84" fill="#ff6666"/>
<rect x="669.98" y="227.7" width="1" height="39" fill="#34694c"/>
<rect x="668.48" y="238.98" width="4" height="26.94" fill="#0d7043"/>
<rect x="669.38" y="239.88" width="2.2" height="25.14" fill="#00d07a"/>
<rect x="675.95" y="213.98" width="1" height="27.92" fill="#34694c"/>
<rect x="674.45" y="213.98" width="4" height="27.14" fill="#7d1f1f"/>
<rect x="675.35" y="214.88" width="2.2" height="25.34" fill="#ff6666"/>
<rect x="681.93" y="201" width="1" height="19.8" fill="#34694c"/>
<rect x="680.43" y="201.88" width="4" height="16.84" fill="#7d1f1f"/>
<rect x="681.33" y="202.78" width="2.2" height="15.04" fill="#ff6666"/>
<rect x="688.9" y="211.1" width="1" height="25" fill="#34694c"/>
<rect x="687.4" y="219.88" width="4" height="13.64" fill="#0d7043"/>
<rect x="688.3" y="220.78" width="2.2" height="11.84" fill="#00d07a"/>
<rect x="694.87" y="239.6" width="1" height="32.5" fill="#34694c"/>
<rect x="693.37" y="244.08" width="4" height="11.74" fill="#7d1f1f"/>
<rect x="694.27" y="244.98" width="2.2" height="9.94" fill="#ff6666"/>
<rect x="700.85" y="208.8" width="1" height="8.4" fill="#34694c"/>
<rect x="699.35" y="211.65" width="4" height="1.3" fill="#0d7043"/>
<rect x="707.82" y="202.8" width="1" height="10.8" fill="#34694c"/>
<rect x="706.32" y="204.48" width="4" height="8.34" fill="#0d7043"/>
<rect x="707.22" y="205.38" width="2.2" height="6.54" fill="#00d07a"/>
<rect x="713.79" y="201" width="1" height="17.9" fill="#34694c"/>
<rect x="712.29" y="204.48" width="4" height="9.24" fill="#7d1f1f"/>
<rect x="713.19" y="205.38" width="2.2" height="7.44" fill="#ff6666"/>
<rect x="719.77" y="178.68" width="1" height="18.72" fill="#34694c"/>
<rect x="718.27" y="178.68" width="4" height="15.14" fill="#7d1f1f"/>
<rect x="719.17" y="179.58" width="2.2" height="13.34" fill="#ff6666"/>
<rect x="725.74" y="169.1" width="1" height="15.1" fill="#34694c"/>
<rect x="724.24" y="180.18" width="4" height="2.34" fill="#0d7043"/>
<rect x="725.14" y="181.08" width="2.2" height="0.54" fill="#00d07a"/>
<rect x="732.71" y="154.6" width="1" height="10.1" fill="#34694c"/>
<rect x="731.21" y="155.38" width="4" height="6.14" fill="#7d1f1f"/>
<rect x="732.11" y="156.28" width="2.2" height="4.34" fill="#ff6666"/>
<rect x="738.69" y="135.78" width="1" height="18.82" fill="#34694c"/>
<rect x="737.19" y="135.78" width="4" height="17.14" fill="#7d1f1f"/>
<rect x="738.09" y="136.68" width="2.2" height="15.34" fill="#ff6666"/>
<rect x="744.66" y="117" width="1" height="21" fill="#34694c"/>
<rect x="743.16" y="121.18" width="4" height="9.04" fill="#0d7043"/>
<rect x="744.06" y="122.08" width="2.2" height="7.24" fill="#00d07a"/>
<rect x="751.64" y="111.78" width="1" height="29.02" fill="#34694c"/>
<rect x="750.14" y="111.78" width="4" height="17.94" fill="#7d1f1f"/>
<rect x="751.04" y="112.68" width="2.2" height="16.14" fill="#ff6666"/>
<rect x="757.61" y="85" width="1" height="23.8" fill="#34694c"/>
<rect x="756.11" y="94.28" width="4" height="9.44" fill="#7d1f1f"/>
<rect x="757.01" y="95.18" width="2.2" height="7.64" fill="#ff6666"/>
<rect x="763.58" y="59.1" width="1" height="30.9" fill="#34694c"/>
<rect x="762.08" y="59.88" width="4" height="29.44" fill="#7d1f1f"/>
<rect x="762.98" y="60.78" width="2.2" height="27.64" fill="#ff6666"/>
<rect x="769.56" y="54.2" width="1" height="28.8" fill="#34694c"/>
<rect x="768.06" y="70.18" width="4" height="7.74" fill="#7d1f1f"/>
<rect x="768.96" y="71.08" width="2.2" height="5.94" fill="#ff6666"/>
<rect x="776.53" y="80.3" width="1" height="58.52" fill="#34694c"/>
<rect x="775.03" y="81.68" width="4" height="57.14" fill="#0d7043"/>
<rect x="775.93" y="82.58" width="2.2" height="55.34" fill="#00d07a"/>
<rect x="782.5" y="156.2" width="1" height="91.5" fill="#34694c"/>
<rect x="781" y="168.18" width="4" height="75.34" fill="#0d7043"/>
<rect x="781.9" y="169.08" width="2.2" height="73.54" fill="#00d07a"/>
<rect x="788.48" y="149.2" width="1" height="71.62" fill="#34694c"/>
<rect x="786.98" y="169.18" width="4" height="51.64" fill="#7d1f1f"/>
<rect x="787.88" y="170.08" width="2.2" height="49.84" fill="#ff6666"/>
<rect x="795.45" y="165.9" width="1" height="34" fill="#34694c"/>
<rect x="793.95" y="169.18" width="4" height="15.04" fill="#7d1f1f"/>
<rect x="794.85" y="170.08" width="2.2" height="13.24" fill="#ff6666"/>
<rect x="801.43" y="208.1" width="1" height="34.6" fill="#34694c"/>
<rect x="799.93" y="216.98" width="4" height="3.94" fill="#0d7043"/>
<rect x="800.83" y="217.88" width="2.2" height="2.14" fill="#00d07a"/>
<rect x="807.4" y="167.5" width="1" height="25.5" fill="#34694c"/>
<rect x="805.9" y="176.98" width="4" height="2.54" fill="#7d1f1f"/>
<rect x="806.8" y="177.88" width="2.2" height="0.74" fill="#ff6666"/>
<rect x="813.37" y="145.2" width="1" height="28.3" fill="#34694c"/>
<rect x="811.87" y="157.88" width="4" height="8.64" fill="#0d7043"/>
<rect x="812.77" y="158.78" width="2.2" height="6.84" fill="#00d07a"/>
<rect x="820.35" y="162.4" width="1" height="15.2" fill="#34694c"/>
<rect x="818.85" y="169.18" width="4" height="3.64" fill="#7d1f1f"/>
<rect x="819.75" y="170.08" width="2.2" height="1.84" fill="#ff6666"/>
<rect x="826.32" y="176.9" width="1" height="21.7" fill="#34694c"/>
<rect x="824.82" y="184.18" width="4" height="11.64" fill="#7d1f1f"/>
<rect x="825.72" y="185.08" width="2.2" height="9.84" fill="#ff6666"/>
</g>
<path d="M0 184.3H1232" stroke="#4468e0" stroke-width="1" stroke-dasharray="1.15 1.34" fill="none"/>
<g id="axes" fill="#6c6c6c">
<rect x="0" y="567.8" width="1280" height="1.1"/>
<rect x="1232" y="0" width="1" height="741"/>
<rect x="0" y="740.1" width="1233" height="1" fill="#777"/>
</g>
<g id="pricelabels">
<rect x="1233" y="16.7" width="2.3" height="1" fill="#666"/>
<text transform="translate(0 21.2) scale(1 1.12)" font-family="Liberation Sans, Noto Sans CJK JP, sans-serif" font-size="9.7" fill="#666" stroke="#666" stroke-width="0.28"><tspan x="1237.6" y="0" textLength="34.8" lengthAdjust="spacingAndGlyphs">6600.00</tspan></text>
<rect x="1233" y="46.8" width="2.3" height="1" fill="#666"/>
<text transform="translate(0 51.3) scale(1 1.12)" font-family="Liberation Sans, Noto Sans CJK JP, sans-serif" font-size="9.7" fill="#666" stroke="#666" stroke-width="0.28"><tspan x="1237.6" y="0" textLength="34.8" lengthAdjust="spacingAndGlyphs">6400.00</tspan></text>
<rect x="1233" y="76.9" width="2.3" height="1" fill="#666"/>
<text transform="translate(0 81.4) scale(1 1.12)" font-family="Liberation Sans, Noto Sans CJK JP, sans-serif" font-size="9.7" fill="#666" stroke="#666" stroke-width="0.28"><tspan x="1237.6" y="0" textLength="34.8" lengthAdjust="spacingAndGlyphs">6200.00</tspan></text>
<rect x="1233" y="107.01" width="2.3" height="1" fill="#666"/>
<text transform="translate(0 111.51) scale(1 1.12)" font-family="Liberation Sans, Noto Sans CJK JP, sans-serif" font-size="9.7" fill="#666" stroke="#666" stroke-width="0.28"><tspan x="1237.6" y="0" textLength="34.8" lengthAdjust="spacingAndGlyphs">6000.00</tspan></text>
<rect x="1233" y="137.11" width="2.3" height="1" fill="#666"/>
<text transform="translate(0 141.61) scale(1 1.12)" font-family="Liberation Sans, Noto Sans CJK JP, sans-serif" font-size="9.7" fill="#666" stroke="#666" stroke-width="0.28"><tspan x="1237.73" y="0" textLength="34.67" lengthAdjust="spacingAndGlyphs">5800.00</tspan></text>
<rect x="1233" y="167.22" width="2.3" height="1" fill="#666"/>
<text transform="translate(0 171.72) scale(1 1.12)" font-family="Liberation Sans, Noto Sans CJK JP, sans-serif" font-size="9.7" fill="#666" stroke="#666" stroke-width="0.28"><tspan x="1237.73" y="0" textLength="34.67" lengthAdjust="spacingAndGlyphs">5600.00</tspan></text>
<rect x="1233" y="197.32" width="2.3" height="1" fill="#666"/>
<text transform="translate(0 201.82) scale(1 1.12)" font-family="Liberation Sans, Noto Sans CJK JP, sans-serif" font-size="9.7" fill="#666" stroke="#666" stroke-width="0.28"><tspan x="1237.73" y="0" textLength="34.67" lengthAdjust="spacingAndGlyphs">5400.00</tspan></text>
<rect x="1233" y="227.42" width="2.3" height="1" fill="#666"/>
<text transform="translate(0 231.92) scale(1 1.12)" font-family="Liberation Sans, Noto Sans CJK JP, sans-serif" font-size="9.7" fill="#666" stroke="#666" stroke-width="0.28"><tspan x="1237.73" y="0" textLength="34.67" lengthAdjust="spacingAndGlyphs">5200.00</tspan></text>
<rect x="1233" y="257.53" width="2.3" height="1" fill="#666"/>
<text transform="translate(0 262.03) scale(1 1.12)" font-family="Liberation Sans, Noto Sans CJK JP, sans-serif" font-size="9.7" fill="#666" stroke="#666" stroke-width="0.28"><tspan x="1237.73" y="0" textLength="34.67" lengthAdjust="spacingAndGlyphs">5000.00</tspan></text>
<rect x="1233" y="287.63" width="2.3" height="1" fill="#666"/>
<text transform="translate(0 292.13) scale(1 1.12)" font-family="Liberation Sans, Noto Sans CJK JP, sans-serif" font-size="9.7" fill="#666" stroke="#666" stroke-width="0.28"><tspan x="1237.85" y="0" textLength="34.55" lengthAdjust="spacingAndGlyphs">4800.00</tspan></text>
<rect x="1233" y="317.74" width="2.3" height="1" fill="#666"/>
<text transform="translate(0 322.24) scale(1 1.12)" font-family="Liberation Sans, Noto Sans CJK JP, sans-serif" font-size="9.7" fill="#666" stroke="#666" stroke-width="0.28"><tspan x="1237.85" y="0" textLength="34.55" lengthAdjust="spacingAndGlyphs">4600.00</tspan></text>
<rect x="1233" y="347.84" width="2.3" height="1" fill="#666"/>
<text transform="translate(0 352.34) scale(1 1.12)" font-family="Liberation Sans, Noto Sans CJK JP, sans-serif" font-size="9.7" fill="#666" stroke="#666" stroke-width="0.28"><tspan x="1237.85" y="0" textLength="34.55" lengthAdjust="spacingAndGlyphs">4400.00</tspan></text>
<rect x="1233" y="377.94" width="2.3" height="1" fill="#666"/>
<text transform="translate(0 382.44) scale(1 1.12)" font-family="Liberation Sans, Noto Sans CJK JP, sans-serif" font-size="9.7" fill="#666" stroke="#666" stroke-width="0.28"><tspan x="1237.85" y="0" textLength="34.55" lengthAdjust="spacingAndGlyphs">4200.00</tspan></text>
<rect x="1233" y="408.05" width="2.3" height="1" fill="#666"/>
<text transform="translate(0 412.55) scale(1 1.12)" font-family="Liberation Sans, Noto Sans CJK JP, sans-serif" font-size="9.7" fill="#666" stroke="#666" stroke-width="0.28"><tspan x="1237.85" y="0" textLength="34.55" lengthAdjust="spacingAndGlyphs">4000.00</tspan></text>
<rect x="1233" y="438.15" width="2.3" height="1" fill="#666"/>
<text transform="translate(0 442.65) scale(1 1.12)" font-family="Liberation Sans, Noto Sans CJK JP, sans-serif" font-size="9.7" fill="#666" stroke="#666" stroke-width="0.28"><tspan x="1237.73" y="0" textLength="34.67" lengthAdjust="spacingAndGlyphs">3800.00</tspan></text>
<rect x="1233" y="468.26" width="2.3" height="1" fill="#666"/>
<text transform="translate(0 472.76) scale(1 1.12)" font-family="Liberation Sans, Noto Sans CJK JP, sans-serif" font-size="9.7" fill="#666" stroke="#666" stroke-width="0.28"><tspan x="1237.73" y="0" textLength="34.67" lengthAdjust="spacingAndGlyphs">3600.00</tspan></text>
<rect x="1233" y="498.36" width="2.3" height="1" fill="#666"/>
<text transform="translate(0 502.86) scale(1 1.12)" font-family="Liberation Sans, Noto Sans CJK JP, sans-serif" font-size="9.7" fill="#666" stroke="#666" stroke-width="0.28"><tspan x="1237.73" y="0" textLength="34.67" lengthAdjust="spacingAndGlyphs">3400.00</tspan></text>
<rect x="1233" y="528.46" width="2.3" height="1" fill="#666"/>
<text transform="translate(0 532.96) scale(1 1.12)" font-family="Liberation Sans, Noto Sans CJK JP, sans-serif" font-size="9.7" fill="#666" stroke="#666" stroke-width="0.28"><tspan x="1237.73" y="0" textLength="34.67" lengthAdjust="spacingAndGlyphs">3200.00</tspan></text>
<rect x="1233" y="558.57" width="2.3" height="1" fill="#666"/>
<text transform="translate(0 563.07) scale(1 1.12)" font-family="Liberation Sans, Noto Sans CJK JP, sans-serif" font-size="9.7" fill="#666" stroke="#666" stroke-width="0.28"><tspan x="1237.73" y="0" textLength="34.67" lengthAdjust="spacingAndGlyphs">3000.00</tspan></text>
<rect x="1233" y="597.4" width="2.3" height="1" fill="#666"/>
<text transform="translate(0 602.65) scale(1 1.12)" font-family="Liberation Sans, Noto Sans CJK JP, sans-serif" font-size="9.7" fill="#666" stroke="#666" stroke-width="0.28"><tspan x="1237.48" y="0" textLength="19.27" lengthAdjust="spacingAndGlyphs">1.6B</tspan></text>
<rect x="1233" y="630.5" width="2.3" height="1" fill="#666"/>
<text transform="translate(0 635.75) scale(1 1.12)" font-family="Liberation Sans, Noto Sans CJK JP, sans-serif" font-size="9.7" fill="#666" stroke="#666" stroke-width="0.28"><tspan x="1237.48" y="0" textLength="19.27" lengthAdjust="spacingAndGlyphs">1.2B</tspan></text>
<rect x="1233" y="663.6" width="2.3" height="1" fill="#666"/>
<text transform="translate(0 668.85) scale(1 1.12)" font-family="Liberation Sans, Noto Sans CJK JP, sans-serif" font-size="9.7" fill="#666" stroke="#666" stroke-width="0.28"><tspan x="1237.83" y="0" textLength="23.68" lengthAdjust="spacingAndGlyphs">800M</tspan></text>
<rect x="1233" y="696.7" width="2.3" height="1" fill="#666"/>
<text transform="translate(0 701.95) scale(1 1.12)" font-family="Liberation Sans, Noto Sans CJK JP, sans-serif" font-size="9.7" fill="#666" stroke="#666" stroke-width="0.28"><tspan x="1237.96" y="0" textLength="23.56" lengthAdjust="spacingAndGlyphs">400M</tspan></text>
<rect x="1233" y="729.7" width="2.3" height="1" fill="#666"/>
<text transform="translate(0 734.95) scale(1 1.12)" font-family="Liberation Sans, Noto Sans CJK JP, sans-serif" font-size="9.7" fill="#666" stroke="#666" stroke-width="0.28"><tspan x="1237.82" y="0" textLength="5.48" lengthAdjust="spacingAndGlyphs">0</tspan></text>
</g>
<g id="markers">
<rect x="1232" y="1.95" width="44" height="13" fill="#555"/>
<rect x="1233" y="7.45" width="2.3" height="1" fill="#fff"/>
<text transform="translate(0 11.9)" font-family="Liberation Sans, Noto Sans CJK JP, sans-serif" font-size="9.7" fill="#fff" font-weight="bold"><tspan x="1237.93" y="0" textLength="34.67" lengthAdjust="spacingAndGlyphs">6657.59</tspan></text>
<rect x="1232" y="177.9" width="44" height="13.5" fill="#4a6ee0"/>
<rect x="1233" y="183.65" width="2.3" height="1" fill="#fff"/>
<text transform="translate(0 188.1)" font-family="Liberation Sans, Noto Sans CJK JP, sans-serif" font-size="9.7" fill="#fff" font-weight="bold"><tspan x="1237.93" y="0" textLength="34.3" lengthAdjust="spacingAndGlyphs">5487.24</tspan></text>
<rect x="1232" y="625" width="39.7" height="13.6" fill="#000"/>
<rect x="1233" y="630.8" width="2.3" height="1" fill="#fff"/>
<text transform="translate(0 635.25)" font-family="Liberation Sans, Noto Sans CJK JP, sans-serif" font-size="9.7" fill="#fff" font-weight="bold"><tspan x="1237.7" y="0" textLength="29.77" lengthAdjust="spacingAndGlyphs">1.197B</tspan></text>
<rect x="1232" y="650" width="48" height="13.8" fill="#ff6b6b"/>
<rect x="1233" y="655.9" width="2.3" height="1" fill="#fff"/>
<text transform="translate(0 660.35)" font-family="Liberation Sans, Noto Sans CJK JP, sans-serif" font-size="9.7" fill="#fff" font-weight="bold"><tspan x="1237.93" y="0" textLength="42.25" lengthAdjust="spacingAndGlyphs">893.613M</tspan></text>
</g>
<g id="timelabels">
<rect x="26.5" y="741" width="1.1" height="2.9" fill="#6a6a6a"/>
<text transform="translate(0 753.2) scale(1 1.1)" font-family="Liberation Sans, Noto Sans CJK JP, sans-serif" font-size="9.7" fill="#666"><tspan x="18.86" y="0" textLength="5.3" lengthAdjust="spacingAndGlyphs" stroke="#666" stroke-width="0.28">9</tspan><tspan x="24.54" y="0.09" textLength="10.08" lengthAdjust="spacingAndGlyphs" font-size="9.3" stroke="#666" stroke-width="0.28">月</tspan></text>
<rect x="95.21" y="741" width="1.1" height="2.9" fill="#6a6a6a"/>
<text transform="translate(0 753.2) scale(1 1.1)" font-family="Liberation Sans, Noto Sans CJK JP, sans-serif" font-size="9.7" fill="#666"><tspan x="90.4" y="0" textLength="10.87" lengthAdjust="spacingAndGlyphs" stroke="#666" stroke-width="0.28">16</tspan></text>
<rect x="163.92" y="741" width="1.1" height="2.9" fill="#6a6a6a"/>
<text transform="translate(0 753.2) scale(1 1.1)" font-family="Liberation Sans, Noto Sans CJK JP, sans-serif" font-size="9.7" fill="#666"><tspan x="154.38" y="0" textLength="9.86" lengthAdjust="spacingAndGlyphs" stroke="#666" stroke-width="0.28">10</tspan><tspan x="164.66" y="0.09" textLength="10.02" lengthAdjust="spacingAndGlyphs" font-size="9.3" stroke="#666" stroke-width="0.28">月</tspan></text>
<rect x="282.42" y="741" width="1.1" height="2.9" fill="#6a6a6a"/>
<text transform="translate(0 753.2) scale(1 1.1)" font-family="Liberation Sans, Noto Sans CJK JP, sans-serif" font-size="9.7" fill="#666"><tspan x="272.92" y="0" textLength="8.73" lengthAdjust="spacingAndGlyphs" stroke="#666" stroke-width="0.28">11</tspan><tspan x="283.16" y="0.09" textLength="10.02" lengthAdjust="spacingAndGlyphs" font-size="9.3" stroke="#666" stroke-width="0.28">月</tspan></text>
<rect x="407.89" y="741" width="1.1" height="2.9" fill="#6a6a6a"/>
<text transform="translate(0 753.2) scale(1 1.1)" font-family="Liberation Sans, Noto Sans CJK JP, sans-serif" font-size="9.7" fill="#666"><tspan x="398.34" y="0" textLength="9.99" lengthAdjust="spacingAndGlyphs" stroke="#666" stroke-width="0.28">12</tspan><tspan x="408.63" y="0.09" textLength="10.02" lengthAdjust="spacingAndGlyphs" font-size="9.3" stroke="#666" stroke-width="0.28">月</tspan></text>
<rect x="539.33" y="741" width="1.1" height="2.9" fill="#6a6a6a"/>
<text transform="translate(0 753.2) scale(1 1.1)" font-family="Liberation Sans, Noto Sans CJK JP, sans-serif" font-size="9.7" fill="#666"><tspan x="529.42" y="0" textLength="20.97" lengthAdjust="spacingAndGlyphs" font-weight="bold">2026</tspan></text>
<rect x="670.78" y="741" width="1.1" height="2.9" fill="#6a6a6a"/>
<text transform="translate(0 753.2) scale(1 1.1)" font-family="Liberation Sans, Noto Sans CJK JP, sans-serif" font-size="9.7" fill="#666"><tspan x="663.14" y="0" textLength="5.3" lengthAdjust="spacingAndGlyphs" stroke="#666" stroke-width="0.28">2</tspan><tspan x="668.82" y="0.09" textLength="10.08" lengthAdjust="spacingAndGlyphs" font-size="9.3" stroke="#666" stroke-width="0.28">月</tspan></text>
<rect x="777.33" y="741" width="1.1" height="2.9" fill="#6a6a6a"/>
<text transform="translate(0 753.2) scale(1 1.1)" font-family="Liberation Sans, Noto Sans CJK JP, sans-serif" font-size="9.7" fill="#666"><tspan x="769.83" y="0" textLength="5.01" lengthAdjust="spacingAndGlyphs" stroke="#666" stroke-width="0.28">3</tspan><tspan x="775.37" y="0.09" textLength="10.08" lengthAdjust="spacingAndGlyphs" font-size="9.3" stroke="#666" stroke-width="0.28">月</tspan></text>
<rect x="908.78" y="741" width="1.1" height="2.9" fill="#6a6a6a"/>
<text transform="translate(0 753.2) scale(1 1.1)" font-family="Liberation Sans, Noto Sans CJK JP, sans-serif" font-size="9.7" fill="#666"><tspan x="901.41" y="0" textLength="4.75" lengthAdjust="spacingAndGlyphs" stroke="#666" stroke-width="0.28">4</tspan><tspan x="906.82" y="0.09" textLength="10.08" lengthAdjust="spacingAndGlyphs" font-size="9.3" stroke="#666" stroke-width="0.28">月</tspan></text>
<rect x="977.49" y="741" width="1.1" height="2.9" fill="#6a6a6a"/>
<text transform="translate(0 753.2) scale(1 1.1)" font-family="Liberation Sans, Noto Sans CJK JP, sans-serif" font-size="9.7" fill="#666"><tspan x="972.68" y="0" textLength="10.87" lengthAdjust="spacingAndGlyphs" stroke="#666" stroke-width="0.28">16</tspan></text>
<rect x="1046.2" y="741" width="1.1" height="2.9" fill="#6a6a6a"/>
<text transform="translate(0 753.2) scale(1 1.1)" font-family="Liberation Sans, Noto Sans CJK JP, sans-serif" font-size="9.7" fill="#666"><tspan x="1038.7" y="0" textLength="5.01" lengthAdjust="spacingAndGlyphs" stroke="#666" stroke-width="0.28">5</tspan><tspan x="1044.24" y="0.09" textLength="10.08" lengthAdjust="spacingAndGlyphs" font-size="9.3" stroke="#666" stroke-width="0.28">月</tspan></text>
<rect x="1177.64" y="741" width="1.1" height="2.9" fill="#6a6a6a"/>
<text transform="translate(0 753.2) scale(1 1.1)" font-family="Liberation Sans, Noto Sans CJK JP, sans-serif" font-size="9.7" fill="#666"><tspan x="1170.01" y="0" textLength="5.15" lengthAdjust="spacingAndGlyphs" stroke="#666" stroke-width="0.28">6</tspan><tspan x="1175.69" y="0.09" textLength="10.08" lengthAdjust="spacingAndGlyphs" font-size="9.3" stroke="#666" stroke-width="0.28">月</tspan></text>
</g>
<g id="datemarker">
<rect x="1176.2" y="741" width="54.6" height="14" fill="#555"/>
<rect x="1221.3" y="741" width="1.4" height="3.2" fill="#c4c4c4"/>
<text transform="translate(0 753.3)" font-family="Liberation Sans, Noto Sans CJK JP, sans-serif" font-size="9.7" fill="#fff" font-weight="bold"><tspan x="1179.23" y="0">2026-06-10</tspan></text>
</g>
<g id="legend">
<rect x="4.3" y="8.3" width="10.5" height="9.8" rx="1.2" fill="none" stroke="#8c8c8c" stroke-width="0.9"/><path d="M6.4 13.2h6.3" stroke="#777" stroke-width="0.9"/>
<text transform="translate(0 18.4)" font-family="Liberation Sans, Noto Sans CJK JP, sans-serif" font-size="14.2" fill="#505050" stroke="#505050" stroke-width="0.3"><tspan x="20.09" y="0" textLength="42.38" lengthAdjust="spacingAndGlyphs">KOSPI,</tspan><tspan x="62" y="0"> </tspan><tspan x="67.65" y="0" textLength="33.74" lengthAdjust="spacingAndGlyphs">韓国,</tspan><tspan x="101" y="0"> </tspan><tspan x="105.61" y="0" textLength="21.71" lengthAdjust="spacingAndGlyphs">日,</tspan><tspan x="127" y="0"> </tspan><tspan x="130.99" y="0" textLength="43.93" lengthAdjust="spacingAndGlyphs">ソウル</tspan></text>
<path d="M178.7 11.9h6.7l-3.35 3.6z" fill="#bcbcc3"/>
<rect x="194.2" y="8.05" width="11.75" height="11.75" fill="#d9d9d9"/><path d="M195.55 13.9Q200.05 6.3 204.55 13.9Q200.05 21.5 195.55 13.9z" fill="#fff"/><circle cx="200.05" cy="13.9" r="1.85" fill="#fff" stroke="#d9d9d9" stroke-width="0.9"/>
<rect x="209.1" y="8.05" width="11.75" height="11.75" fill="#d9d9d9"/><circle cx="214.95" cy="13.9" r="3.05" fill="#fff"/><path d="M217.35 13.9L219.25 13.9M216.65 15.6L217.99 16.94M214.95 16.3L214.95 18.2M213.25 15.6L211.91 16.94M212.55 13.9L210.65 13.9M213.25 12.2L211.91 10.86M214.95 11.5L214.95 9.6M216.65 12.2L217.99 10.86" stroke="#fff" stroke-width="1.55" fill="none"/><circle cx="214.95" cy="13.9" r="1.55" fill="#d9d9d9"/>
<text transform="translate(0 18.6)" font-family="Liberation Sans, Noto Sans CJK JP, sans-serif" font-size="12.6" fill="#702828"><tspan x="227.06" y="-0.3" textLength="26.56" lengthAdjust="spacingAndGlyphs" font-size="13" fill="#5c5c5c" stroke="#5c5c5c" stroke-width="0.2">始値</tspan><tspan x="254.21" y="0" textLength="44.43" lengthAdjust="spacingAndGlyphs" stroke="#702828" stroke-width="0.3">5412.39</tspan></text>
<text transform="translate(0 18.6)" font-family="Liberation Sans, Noto Sans CJK JP, sans-serif" font-size="12.6" fill="#702828"><tspan x="306.93" y="-0.3" textLength="25.88" lengthAdjust="spacingAndGlyphs" font-size="13" fill="#5c5c5c" stroke="#5c5c5c" stroke-width="0.2">高値</tspan><tspan x="334.22" y="0" textLength="43.81" lengthAdjust="spacingAndGlyphs" stroke="#702828" stroke-width="0.3">5537.59</tspan></text>
<text transform="translate(0 18.6)" font-family="Liberation Sans, Noto Sans CJK JP, sans-serif" font-size="12.6" fill="#702828"><tspan x="386.75" y="-0.3" font-size="13" fill="#5c5c5c" stroke="#5c5c5c" stroke-width="0.2">安値</tspan><tspan x="414.02" y="0" textLength="44.12" lengthAdjust="spacingAndGlyphs" stroke="#702828" stroke-width="0.3">5392.52</tspan></text>
<text transform="translate(0 18.6)" font-family="Liberation Sans, Noto Sans CJK JP, sans-serif" font-size="12.6" fill="#702828"><tspan x="466.53" y="-0.3" textLength="25.89" lengthAdjust="spacingAndGlyphs" font-size="13" fill="#5c5c5c" stroke="#5c5c5c" stroke-width="0.2">終値</tspan><tspan x="493.41" y="0" textLength="44.49" lengthAdjust="spacingAndGlyphs" stroke="#702828" stroke-width="0.3">5487.24</tspan></text>
</g>
<g id="vollegend">
<text transform="translate(0 584.8)" font-family="Liberation Sans, Noto Sans CJK JP, sans-serif" font-size="10.8" fill="#5e5e5e" stroke="#5e5e5e" stroke-width="0.2"><tspan x="3.66" y="0.2" textLength="31.49" lengthAdjust="spacingAndGlyphs" font-size="10.6">出来高</tspan><tspan x="35.5" y="0"> </tspan><tspan x="38.52" y="0" textLength="17.94" lengthAdjust="spacingAndGlyphs">(20)</tspan></text>
<path d="M60.3 579.7h6.3l-3.15 3.2z" fill="#bcbcc3"/>
<rect x="75.9" y="575.5" width="11.75" height="11.75" fill="#d9d9d9"/><path d="M77.25 581.4Q81.75 573.8 86.25 581.4Q81.75 589 77.25 581.4z" fill="#fff"/><circle cx="81.75" cy="581.4" r="1.85" fill="#fff" stroke="#d9d9d9" stroke-width="0.9"/>
<rect x="90.3" y="575.5" width="11.75" height="11.75" fill="#d9d9d9"/><circle cx="96.15" cy="581.4" r="3.05" fill="#fff"/><path d="M98.55 581.4L100.45 581.4M97.85 583.1L99.19 584.44M96.15 583.8L96.15 585.7M94.45 583.1L93.11 584.44M93.75 581.4L91.85 581.4M94.45 579.7L93.11 578.36M96.15 579L96.15 577.1M97.85 579.7L99.19 578.36" stroke="#fff" stroke-width="1.55" fill="none"/><circle cx="96.15" cy="581.4" r="1.55" fill="#d9d9d9"/>
<rect x="105" y="575.5" width="11.75" height="11.75" fill="#d9d9d9"/><path d="M107.2 577.7l7.3 7.4M114.5 577.7l-7.3 7.4" stroke="#fff" stroke-width="1.45" fill="none"/>
<text transform="translate(0 584.8)" font-family="Liberation Sans, Noto Sans CJK JP, sans-serif" font-size="10.9" fill="#ff6868" stroke="#ff6868" stroke-width="0.3"><tspan x="123.13" y="0" textLength="45.26" lengthAdjust="spacingAndGlyphs">893.613M</tspan></text>
<text transform="translate(0 584.8)" font-family="Liberation Sans, Noto Sans CJK JP, sans-serif" font-size="10.9" fill="#2e2e2e" stroke="#2e2e2e" stroke-width="0.3"><tspan x="175.79" y="0" textLength="31.79" lengthAdjust="spacingAndGlyphs">1.197B</tspan></text>
</g>
<g id="logo">
<text transform="translate(0 553.8)" font-family="Liberation Sans, Noto Sans CJK JP, sans-serif" font-size="18.2" fill="#707070"><tspan x="11.18" y="0" textLength="77.91" lengthAdjust="spacingAndGlyphs" font-weight="bold" fill="#0a0a0a" stroke="#0a0a0a" stroke-width="0.85">Investing</tspan><tspan x="88.43" y="0" textLength="26.64" lengthAdjust="spacingAndGlyphs" font-size="13.2">.com</tspan></text>
<rect x="62.4" y="538.6" width="4.8" height="4.4" fill="#fff"/>
<rect x="62.55" y="539.75" width="4.3" height="2.7" rx="1.1" fill="#ffa012" transform="rotate(-24 64.7 541.1)"/>
</g>
<g id="infobox">
<rect x="938.2" y="53.2" width="274.8" height="171.5" fill="#d8d8d8"/>
<text transform="translate(0 81.7) scale(1 1.05)" font-family="Liberation Sans, Noto Sans CJK JP, sans-serif" font-size="27" fill="#000"><tspan x="949.25" y="0" textLength="13.83" lengthAdjust="spacingAndGlyphs" stroke="#000" stroke-width="0.15">2</tspan><tspan x="964.15" y="0" textLength="13.83" lengthAdjust="spacingAndGlyphs" stroke="#000" stroke-width="0.15">0</tspan><tspan x="978.75" y="0" textLength="13.83" lengthAdjust="spacingAndGlyphs" stroke="#000" stroke-width="0.15">2</tspan><tspan x="993.55" y="0" textLength="13.83" lengthAdjust="spacingAndGlyphs" stroke="#000" stroke-width="0.15">6</tspan><tspan x="1008.02" y="0" textLength="27.47" lengthAdjust="spacingAndGlyphs" font-family="IPAGothic, Noto Sans CJK JP, sans-serif" font-size="26.1" stroke="#000" stroke-width="0.35">年</tspan><tspan x="1035.15" y="0" textLength="13.83" lengthAdjust="spacingAndGlyphs" stroke="#000" stroke-width="0.15">0</tspan><tspan x="1050.35" y="0" textLength="13.83" lengthAdjust="spacingAndGlyphs" stroke="#000" stroke-width="0.15">3</tspan><tspan x="1065.31" y="0" textLength="28.74" lengthAdjust="spacingAndGlyphs" font-family="IPAGothic, Noto Sans CJK JP, sans-serif" font-size="26.1" stroke="#000" stroke-width="0.35">月</tspan><tspan x="1093.95" y="0.81" font-family="IPAGothic, Noto Sans CJK JP, sans-serif" font-size="26" stroke="#000" stroke-width="0.15">1</tspan><tspan x="1108.35" y="0" textLength="13.83" lengthAdjust="spacingAndGlyphs" stroke="#000" stroke-width="0.15">3</tspan><tspan x="1123.4" y="0" textLength="27.45" lengthAdjust="spacingAndGlyphs" font-family="IPAGothic, Noto Sans CJK JP, sans-serif" font-size="26.1" stroke="#000" stroke-width="0.35">日</tspan><tspan x="1148.74" y="0" textLength="11.58" lengthAdjust="spacingAndGlyphs" font-family="IPAGothic, Noto Sans CJK JP, sans-serif" font-size="26.1" stroke="#000" stroke-width="0.35">(</tspan><tspan x="1159.73" y="0" textLength="27.96" lengthAdjust="spacingAndGlyphs" font-family="IPAGothic, Noto Sans CJK JP, sans-serif" font-size="26.1" stroke="#000" stroke-width="0.35">金</tspan><tspan x="1187.07" y="0" textLength="13.23" lengthAdjust="spacingAndGlyphs" font-family="IPAGothic, Noto Sans CJK JP, sans-serif" font-size="26.1" stroke="#000" stroke-width="0.35">)</tspan></text>
<text transform="translate(0 100.6)" font-family="Liberation Sans, Noto Sans CJK JP, sans-serif" font-size="16.6" fill="#3c3c3c"><tspan x="946.67" y="0" textLength="7.31" lengthAdjust="spacingAndGlyphs" font-family="IPAGothic, Noto Sans CJK JP, sans-serif" font-size="16.4">(</tspan><tspan x="952.67" y="0" textLength="30.9" lengthAdjust="spacingAndGlyphs">2026</tspan><tspan x="984.08" y="0" textLength="16.45" lengthAdjust="spacingAndGlyphs" font-family="IPAGothic, Noto Sans CJK JP, sans-serif">年</tspan><tspan x="1000.36" y="0" textLength="15.96" lengthAdjust="spacingAndGlyphs">03</tspan><tspan x="1015.95" y="0" textLength="17" lengthAdjust="spacingAndGlyphs" font-family="IPAGothic, Noto Sans CJK JP, sans-serif">月</tspan><tspan x="1031.18" y="0.5" textLength="8.41" lengthAdjust="spacingAndGlyphs" font-family="IPAGothic, Noto Sans CJK JP, sans-serif" font-size="15.6">1</tspan><tspan x="1038.96" y="0" textLength="7.92" lengthAdjust="spacingAndGlyphs">3</tspan><tspan x="1048.53" y="0" textLength="15.31" lengthAdjust="spacingAndGlyphs" font-family="IPAGothic, Noto Sans CJK JP, sans-serif">日</tspan><tspan x="1063" y="0"> </tspan><tspan x="1067.18" y="0.5" textLength="8.41" lengthAdjust="spacingAndGlyphs" font-family="IPAGothic, Noto Sans CJK JP, sans-serif" font-size="15.6">1</tspan><tspan x="1075.25" y="0" textLength="7.98" lengthAdjust="spacingAndGlyphs">5</tspan><tspan x="1083.42" y="0" textLength="4.55" lengthAdjust="spacingAndGlyphs">:</tspan><tspan x="1087.17" y="0" textLength="15.53" lengthAdjust="spacingAndGlyphs">33</tspan><tspan x="1103.26" y="0" textLength="32.69" lengthAdjust="spacingAndGlyphs" font-family="IPAGothic, Noto Sans CJK JP, sans-serif">現在</tspan><tspan x="1134.81" y="0" textLength="5.81" lengthAdjust="spacingAndGlyphs" font-family="IPAGothic, Noto Sans CJK JP, sans-serif" font-size="16.4">)</tspan></text>
<text transform="translate(0 127.9) scale(1 1.05)" font-family="Liberation Sans, Noto Sans CJK JP, sans-serif" font-size="27" fill="#000"><tspan x="949.35" y="0" textLength="56.16" lengthAdjust="spacingAndGlyphs" font-family="IPAGothic, Noto Sans CJK JP, sans-serif" font-size="26.1" stroke="#000" stroke-width="0.35">始値</tspan><tspan x="1008.66" y="-0.48" textLength="8.91" lengthAdjust="spacingAndGlyphs" font-size="22.5">:</tspan><tspan x="1020.7" y="0" textLength="13.83" lengthAdjust="spacingAndGlyphs" stroke="#000" stroke-width="0.15">5</tspan><tspan x="1034.24" y="0" textLength="6.91" lengthAdjust="spacingAndGlyphs" stroke="#000" stroke-width="0.15">,</tspan><tspan x="1041.3" y="0" textLength="13.83" lengthAdjust="spacingAndGlyphs" stroke="#000" stroke-width="0.15">4</tspan><tspan x="1056.4" y="0.81" font-family="IPAGothic, Noto Sans CJK JP, sans-serif" font-size="26" stroke="#000" stroke-width="0.15">1</tspan><tspan x="1070.8" y="0" textLength="13.83" lengthAdjust="spacingAndGlyphs" stroke="#000" stroke-width="0.15">2</tspan><tspan x="1084.3" y="0" textLength="6.91" lengthAdjust="spacingAndGlyphs" stroke="#000" stroke-width="0.15">.</tspan><tspan x="1090.95" y="0" textLength="13.83" lengthAdjust="spacingAndGlyphs" stroke="#000" stroke-width="0.15">3</tspan><tspan x="1105.9" y="0" textLength="13.83" lengthAdjust="spacingAndGlyphs" stroke="#000" stroke-width="0.15">9</tspan></text>
<text transform="translate(0 157.3) scale(1 1.05)" font-family="Liberation Sans, Noto Sans CJK JP, sans-serif" font-size="27" fill="#000"><tspan x="948.93" y="0" textLength="56.6" lengthAdjust="spacingAndGlyphs" font-family="IPAGothic, Noto Sans CJK JP, sans-serif" font-size="26.1" stroke="#000" stroke-width="0.35">高値</tspan><tspan x="1008.66" y="-0.48" textLength="8.91" lengthAdjust="spacingAndGlyphs" font-size="22.5">:</tspan><tspan x="1020.7" y="0" textLength="13.83" lengthAdjust="spacingAndGlyphs" fill="#cc0000" stroke="#cc0000" stroke-width="0.15">5</tspan><tspan x="1034.24" y="0" textLength="6.91" lengthAdjust="spacingAndGlyphs" fill="#cc0000" stroke="#cc0000" stroke-width="0.15">,</tspan><tspan x="1041.3" y="0" textLength="13.83" lengthAdjust="spacingAndGlyphs" fill="#cc0000" stroke="#cc0000" stroke-width="0.15">5</tspan><tspan x="1056.05" y="0" textLength="13.83" lengthAdjust="spacingAndGlyphs" fill="#cc0000" stroke="#cc0000" stroke-width="0.15">3</tspan><tspan x="1070.8" y="0" textLength="13.83" lengthAdjust="spacingAndGlyphs" fill="#cc0000" stroke="#cc0000" stroke-width="0.15">7</tspan><tspan x="1084.3" y="0" textLength="6.91" lengthAdjust="spacingAndGlyphs" fill="#cc0000" stroke="#cc0000" stroke-width="0.15">.</tspan><tspan x="1090.95" y="0" textLength="13.83" lengthAdjust="spacingAndGlyphs" fill="#cc0000" stroke="#cc0000" stroke-width="0.15">5</tspan><tspan x="1105.9" y="0" textLength="13.83" lengthAdjust="spacingAndGlyphs" fill="#cc0000" stroke="#cc0000" stroke-width="0.15">9</tspan></text>
<text transform="translate(0 186.7) scale(1 1.05)" font-family="Liberation Sans, Noto Sans CJK JP, sans-serif" font-size="27" fill="#000"><tspan x="949.21" y="0" textLength="56.31" lengthAdjust="spacingAndGlyphs" font-family="IPAGothic, Noto Sans CJK JP, sans-serif" font-size="26.1" stroke="#000" stroke-width="0.35">安値</tspan><tspan x="1008.66" y="-0.48" textLength="8.91" lengthAdjust="spacingAndGlyphs" font-size="22.5">:</tspan><tspan x="1020.7" y="0" textLength="13.83" lengthAdjust="spacingAndGlyphs" stroke="#000" stroke-width="0.15">5</tspan><tspan x="1034.24" y="0" textLength="6.91" lengthAdjust="spacingAndGlyphs" stroke="#000" stroke-width="0.15">,</tspan><tspan x="1041.3" y="0" textLength="13.83" lengthAdjust="spacingAndGlyphs" stroke="#000" stroke-width="0.15">3</tspan><tspan x="1056.05" y="0" textLength="13.83" lengthAdjust="spacingAndGlyphs" stroke="#000" stroke-width="0.15">9</tspan><tspan x="1070.8" y="0" textLength="13.83" lengthAdjust="spacingAndGlyphs" stroke="#000" stroke-width="0.15">2</tspan><tspan x="1084.3" y="0" textLength="6.91" lengthAdjust="spacingAndGlyphs" stroke="#000" stroke-width="0.15">.</tspan><tspan x="1090.95" y="0" textLength="13.83" lengthAdjust="spacingAndGlyphs" stroke="#000" stroke-width="0.15">5</tspan><tspan x="1105.9" y="0" textLength="13.83" lengthAdjust="spacingAndGlyphs" stroke="#000" stroke-width="0.15">2</tspan></text>
<text transform="translate(0 216.1) scale(1 1.05)" font-family="Liberation Sans, Noto Sans CJK JP, sans-serif" font-size="27" fill="#000"><tspan x="949.9" y="0" textLength="55.6" lengthAdjust="spacingAndGlyphs" font-family="IPAGothic, Noto Sans CJK JP, sans-serif" font-size="26.1" stroke="#000" stroke-width="0.35">終値</tspan><tspan x="1008.66" y="-0.48" textLength="8.91" lengthAdjust="spacingAndGlyphs" font-size="22.5">:</tspan><tspan x="1020.7" y="0" textLength="13.83" lengthAdjust="spacingAndGlyphs" fill="#cc0000" stroke="#cc0000" stroke-width="0.15">5</tspan><tspan x="1034.24" y="0" textLength="6.91" lengthAdjust="spacingAndGlyphs" fill="#cc0000" stroke="#cc0000" stroke-width="0.15">,</tspan><tspan x="1041.3" y="0" textLength="13.83" lengthAdjust="spacingAndGlyphs" fill="#cc0000" stroke="#cc0000" stroke-width="0.15">4</tspan><tspan x="1056.05" y="0" textLength="13.83" lengthAdjust="spacingAndGlyphs" fill="#cc0000" stroke="#cc0000" stroke-width="0.15">8</tspan><tspan x="1070.8" y="0" textLength="13.83" lengthAdjust="spacingAndGlyphs" fill="#cc0000" stroke="#cc0000" stroke-width="0.15">7</tspan><tspan x="1084.3" y="0" textLength="6.91" lengthAdjust="spacingAndGlyphs" fill="#cc0000" stroke="#cc0000" stroke-width="0.15">.</tspan><tspan x="1090.95" y="0" textLength="13.83" lengthAdjust="spacingAndGlyphs" fill="#cc0000" stroke="#cc0000" stroke-width="0.15">2</tspan><tspan x="1105.9" y="0" textLength="13.83" lengthAdjust="spacingAndGlyphs" fill="#cc0000" stroke="#cc0000" stroke-width="0.15">4</tspan></text>
</g>
<g id="crosshair" fill="none" stroke="#979797" stroke-width="1">
<path d="M0 8.2H1232" stroke-dasharray="4.6 4.85" stroke-dashoffset="-0.35"/>
<path d="M1222 0V740.4" stroke="#a6a6a6" stroke-dasharray="4.5 5.003" stroke-dashoffset="2.3"/>
</g>
</svg>
</body>
</html>
